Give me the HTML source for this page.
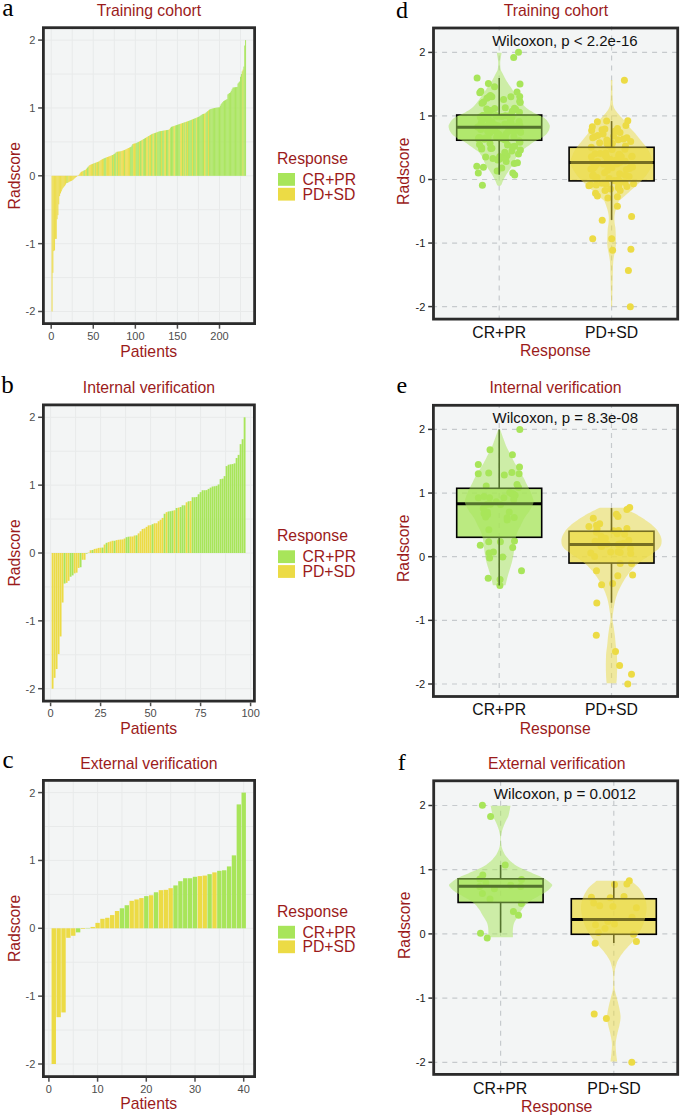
<!DOCTYPE html>
<html><head><meta charset="utf-8"><title>Radscore figure</title>
<style>html,body{margin:0;padding:0;background:#fff;width:685px;height:1118px;overflow:hidden}svg{display:block}</style>
</head><body>
<svg width="685" height="1118" viewBox="0 0 685 1118">
<rect width="685" height="1118" fill="#FFFFFF"/>
<rect x="44.8" y="29.1" width="208.39999999999998" height="293.09999999999997" fill="#F3F5F5"/>
<line x1="44.8" x2="253.2" y1="311.50" y2="311.50" stroke="#E8EAEA" stroke-width="1"/>
<line x1="44.8" x2="253.2" y1="277.57" y2="277.57" stroke="#E8EAEA" stroke-width="1"/>
<line x1="44.8" x2="253.2" y1="243.65" y2="243.65" stroke="#E8EAEA" stroke-width="1"/>
<line x1="44.8" x2="253.2" y1="209.73" y2="209.73" stroke="#E8EAEA" stroke-width="1"/>
<line x1="44.8" x2="253.2" y1="175.80" y2="175.80" stroke="#E8EAEA" stroke-width="1"/>
<line x1="44.8" x2="253.2" y1="141.88" y2="141.88" stroke="#E8EAEA" stroke-width="1"/>
<line x1="44.8" x2="253.2" y1="107.95" y2="107.95" stroke="#E8EAEA" stroke-width="1"/>
<line x1="44.8" x2="253.2" y1="74.03" y2="74.03" stroke="#E8EAEA" stroke-width="1"/>
<line x1="44.8" x2="253.2" y1="40.10" y2="40.10" stroke="#E8EAEA" stroke-width="1"/>
<line x1="51.20" x2="51.20" y1="29.1" y2="322.2" stroke="#E8EAEA" stroke-width="1"/>
<line x1="72.24" x2="72.24" y1="29.1" y2="322.2" stroke="#E8EAEA" stroke-width="1"/>
<line x1="93.28" x2="93.28" y1="29.1" y2="322.2" stroke="#E8EAEA" stroke-width="1"/>
<line x1="114.31" x2="114.31" y1="29.1" y2="322.2" stroke="#E8EAEA" stroke-width="1"/>
<line x1="135.35" x2="135.35" y1="29.1" y2="322.2" stroke="#E8EAEA" stroke-width="1"/>
<line x1="156.39" x2="156.39" y1="29.1" y2="322.2" stroke="#E8EAEA" stroke-width="1"/>
<line x1="177.43" x2="177.43" y1="29.1" y2="322.2" stroke="#E8EAEA" stroke-width="1"/>
<line x1="198.46" x2="198.46" y1="29.1" y2="322.2" stroke="#E8EAEA" stroke-width="1"/>
<line x1="219.50" x2="219.50" y1="29.1" y2="322.2" stroke="#E8EAEA" stroke-width="1"/>
<line x1="240.54" x2="240.54" y1="29.1" y2="322.2" stroke="#E8EAEA" stroke-width="1"/>
<rect x="51.570" y="175.800" width="0.942" height="135.700" fill="#ECDB45"/>
<rect x="52.412" y="175.800" width="0.942" height="97.026" fill="#ECDB45"/>
<rect x="53.253" y="175.800" width="0.942" height="75.314" fill="#ECDB45"/>
<rect x="54.095" y="175.800" width="0.942" height="74.635" fill="#ECDB45"/>
<rect x="54.936" y="175.800" width="0.942" height="63.101" fill="#ECDB45"/>
<rect x="55.778" y="175.800" width="0.942" height="63.101" fill="#ECDB45"/>
<rect x="56.619" y="175.800" width="0.942" height="43.424" fill="#ECDB45"/>
<rect x="57.461" y="175.800" width="0.942" height="39.353" fill="#ECDB45"/>
<rect x="58.302" y="175.800" width="0.942" height="28.497" fill="#ECDB45"/>
<rect x="59.144" y="175.800" width="0.942" height="20.355" fill="#ECDB45"/>
<rect x="59.985" y="175.800" width="0.942" height="17.641" fill="#ECDB45"/>
<rect x="60.827" y="175.800" width="0.942" height="15.606" fill="#ECDB45"/>
<rect x="61.668" y="175.800" width="0.942" height="13.570" fill="#ECDB45"/>
<rect x="62.510" y="175.800" width="0.942" height="12.213" fill="#ECDB45"/>
<rect x="63.351" y="175.800" width="0.942" height="11.195" fill="#ECDB45"/>
<rect x="64.193" y="175.800" width="0.942" height="10.178" fill="#ECDB45"/>
<rect x="65.034" y="175.800" width="0.942" height="8.821" fill="#ECDB45"/>
<rect x="65.876" y="175.800" width="0.942" height="7.464" fill="#ECDB45"/>
<rect x="66.717" y="175.800" width="0.942" height="7.124" fill="#A8E55A"/>
<rect x="67.559" y="175.800" width="0.942" height="6.785" fill="#ECDB45"/>
<rect x="68.400" y="175.800" width="0.942" height="6.276" fill="#ECDB45"/>
<rect x="69.242" y="175.800" width="0.942" height="5.767" fill="#ECDB45"/>
<rect x="70.083" y="175.800" width="0.942" height="5.428" fill="#ECDB45"/>
<rect x="70.925" y="175.800" width="0.942" height="5.089" fill="#ECDB45"/>
<rect x="71.766" y="175.800" width="0.942" height="4.580" fill="#ECDB45"/>
<rect x="72.608" y="175.800" width="0.942" height="4.071" fill="#ECDB45"/>
<rect x="73.449" y="175.800" width="0.942" height="3.223" fill="#ECDB45"/>
<rect x="74.291" y="175.800" width="0.942" height="2.375" fill="#ECDB45"/>
<rect x="75.132" y="175.800" width="0.942" height="1.696" fill="#ECDB45"/>
<rect x="75.974" y="175.800" width="0.942" height="1.018" fill="#ECDB45"/>
<rect x="76.815" y="175.800" width="0.942" height="0.339" fill="#ECDB45"/>
<rect x="77.657" y="175.461" width="0.942" height="0.339" fill="#ECDB45"/>
<rect x="78.498" y="174.850" width="0.942" height="0.950" fill="#ECDB45"/>
<rect x="79.340" y="173.663" width="0.942" height="2.137" fill="#ECDB45"/>
<rect x="80.181" y="172.475" width="0.942" height="3.325" fill="#ECDB45"/>
<rect x="81.023" y="171.753" width="0.942" height="4.047" fill="#ECDB45"/>
<rect x="81.864" y="171.341" width="0.942" height="4.459" fill="#ECDB45"/>
<rect x="82.706" y="170.929" width="0.942" height="4.871" fill="#ECDB45"/>
<rect x="83.547" y="170.517" width="0.942" height="5.283" fill="#A8E55A"/>
<rect x="84.389" y="170.105" width="0.942" height="5.695" fill="#A8E55A"/>
<rect x="85.230" y="169.694" width="0.942" height="6.107" fill="#ECDB45"/>
<rect x="86.072" y="168.688" width="0.942" height="7.112" fill="#ECDB45"/>
<rect x="86.913" y="167.683" width="0.942" height="8.117" fill="#A8E55A"/>
<rect x="87.755" y="166.708" width="0.942" height="9.092" fill="#A8E55A"/>
<rect x="88.596" y="165.803" width="0.942" height="9.997" fill="#ECDB45"/>
<rect x="89.438" y="165.010" width="0.942" height="10.790" fill="#ECDB45"/>
<rect x="90.279" y="164.664" width="0.942" height="11.136" fill="#ECDB45"/>
<rect x="91.121" y="164.318" width="0.942" height="11.482" fill="#ECDB45"/>
<rect x="91.962" y="163.972" width="0.942" height="11.828" fill="#ECDB45"/>
<rect x="92.804" y="163.626" width="0.942" height="12.174" fill="#A8E55A"/>
<rect x="93.645" y="163.291" width="0.942" height="12.509" fill="#ECDB45"/>
<rect x="94.487" y="162.983" width="0.942" height="12.817" fill="#ECDB45"/>
<rect x="95.328" y="162.674" width="0.942" height="13.126" fill="#A8E55A"/>
<rect x="96.170" y="162.366" width="0.942" height="13.434" fill="#ECDB45"/>
<rect x="97.011" y="162.057" width="0.942" height="13.743" fill="#ECDB45"/>
<rect x="97.853" y="161.749" width="0.942" height="14.051" fill="#A8E55A"/>
<rect x="98.694" y="161.248" width="0.942" height="14.552" fill="#ECDB45"/>
<rect x="99.536" y="160.699" width="0.942" height="15.101" fill="#ECDB45"/>
<rect x="100.377" y="160.149" width="0.942" height="15.651" fill="#ECDB45"/>
<rect x="101.219" y="159.600" width="0.942" height="16.200" fill="#ECDB45"/>
<rect x="102.060" y="159.133" width="0.942" height="16.667" fill="#ECDB45"/>
<rect x="102.902" y="158.721" width="0.942" height="17.079" fill="#ECDB45"/>
<rect x="103.743" y="158.309" width="0.942" height="17.491" fill="#A8E55A"/>
<rect x="104.585" y="157.970" width="0.942" height="17.830" fill="#A8E55A"/>
<rect x="105.426" y="157.650" width="0.942" height="18.150" fill="#A8E55A"/>
<rect x="106.268" y="157.329" width="0.942" height="18.471" fill="#ECDB45"/>
<rect x="107.109" y="157.008" width="0.942" height="18.792" fill="#ECDB45"/>
<rect x="107.951" y="156.687" width="0.942" height="19.113" fill="#ECDB45"/>
<rect x="108.792" y="156.363" width="0.942" height="19.437" fill="#ECDB45"/>
<rect x="109.634" y="156.032" width="0.942" height="19.768" fill="#ECDB45"/>
<rect x="110.475" y="155.702" width="0.942" height="20.098" fill="#ECDB45"/>
<rect x="111.317" y="155.371" width="0.942" height="20.429" fill="#ECDB45"/>
<rect x="112.158" y="155.003" width="0.942" height="20.797" fill="#A8E55A"/>
<rect x="113.000" y="154.488" width="0.942" height="21.312" fill="#ECDB45"/>
<rect x="113.841" y="153.973" width="0.942" height="21.827" fill="#A8E55A"/>
<rect x="114.683" y="153.348" width="0.942" height="22.452" fill="#A8E55A"/>
<rect x="115.524" y="152.466" width="0.942" height="23.334" fill="#A8E55A"/>
<rect x="116.366" y="151.816" width="0.942" height="23.984" fill="#ECDB45"/>
<rect x="117.207" y="151.705" width="0.942" height="24.095" fill="#A8E55A"/>
<rect x="118.049" y="151.594" width="0.942" height="24.206" fill="#ECDB45"/>
<rect x="118.890" y="151.483" width="0.942" height="24.317" fill="#ECDB45"/>
<rect x="119.732" y="151.373" width="0.942" height="24.427" fill="#A8E55A"/>
<rect x="120.573" y="151.196" width="0.942" height="24.604" fill="#ECDB45"/>
<rect x="121.415" y="150.922" width="0.942" height="24.878" fill="#ECDB45"/>
<rect x="122.256" y="150.647" width="0.942" height="25.153" fill="#ECDB45"/>
<rect x="123.098" y="150.372" width="0.942" height="25.428" fill="#ECDB45"/>
<rect x="123.939" y="150.070" width="0.942" height="25.730" fill="#A8E55A"/>
<rect x="124.781" y="149.656" width="0.942" height="26.144" fill="#ECDB45"/>
<rect x="125.622" y="149.243" width="0.942" height="26.557" fill="#ECDB45"/>
<rect x="126.464" y="148.829" width="0.942" height="26.971" fill="#ECDB45"/>
<rect x="127.305" y="148.414" width="0.942" height="27.386" fill="#ECDB45"/>
<rect x="128.147" y="147.994" width="0.942" height="27.806" fill="#ECDB45"/>
<rect x="128.988" y="147.574" width="0.942" height="28.226" fill="#ECDB45"/>
<rect x="129.830" y="147.154" width="0.942" height="28.646" fill="#A8E55A"/>
<rect x="130.671" y="146.734" width="0.942" height="29.066" fill="#A8E55A"/>
<rect x="131.513" y="145.471" width="0.942" height="30.329" fill="#A8E55A"/>
<rect x="132.354" y="144.114" width="0.942" height="31.686" fill="#A8E55A"/>
<rect x="133.196" y="143.703" width="0.942" height="32.097" fill="#ECDB45"/>
<rect x="134.037" y="143.529" width="0.942" height="32.271" fill="#ECDB45"/>
<rect x="134.879" y="143.354" width="0.942" height="32.446" fill="#ECDB45"/>
<rect x="135.720" y="143.108" width="0.942" height="32.692" fill="#A8E55A"/>
<rect x="136.562" y="142.694" width="0.942" height="33.106" fill="#A8E55A"/>
<rect x="137.403" y="142.280" width="0.942" height="33.520" fill="#A8E55A"/>
<rect x="138.245" y="141.867" width="0.942" height="33.933" fill="#A8E55A"/>
<rect x="139.086" y="141.439" width="0.942" height="34.361" fill="#ECDB45"/>
<rect x="139.928" y="140.954" width="0.942" height="34.846" fill="#A8E55A"/>
<rect x="140.769" y="140.470" width="0.942" height="35.330" fill="#A8E55A"/>
<rect x="141.611" y="139.985" width="0.942" height="35.815" fill="#ECDB45"/>
<rect x="142.452" y="139.500" width="0.942" height="36.300" fill="#ECDB45"/>
<rect x="143.294" y="139.016" width="0.942" height="36.784" fill="#A8E55A"/>
<rect x="144.135" y="138.503" width="0.942" height="37.297" fill="#A8E55A"/>
<rect x="144.977" y="137.972" width="0.942" height="37.828" fill="#A8E55A"/>
<rect x="145.818" y="137.454" width="0.942" height="38.346" fill="#ECDB45"/>
<rect x="146.660" y="136.965" width="0.942" height="38.835" fill="#ECDB45"/>
<rect x="147.501" y="136.475" width="0.942" height="39.325" fill="#ECDB45"/>
<rect x="148.343" y="135.986" width="0.942" height="39.814" fill="#A8E55A"/>
<rect x="149.184" y="135.497" width="0.942" height="40.303" fill="#ECDB45"/>
<rect x="150.026" y="134.944" width="0.942" height="40.856" fill="#ECDB45"/>
<rect x="150.867" y="134.391" width="0.942" height="41.409" fill="#A8E55A"/>
<rect x="151.709" y="133.928" width="0.942" height="41.872" fill="#A8E55A"/>
<rect x="152.550" y="133.674" width="0.942" height="42.126" fill="#ECDB45"/>
<rect x="153.392" y="133.419" width="0.942" height="42.381" fill="#ECDB45"/>
<rect x="154.233" y="133.112" width="0.942" height="42.688" fill="#A8E55A"/>
<rect x="155.075" y="132.799" width="0.942" height="43.001" fill="#A8E55A"/>
<rect x="155.916" y="132.486" width="0.942" height="43.314" fill="#ECDB45"/>
<rect x="156.758" y="132.172" width="0.942" height="43.628" fill="#A8E55A"/>
<rect x="157.599" y="131.859" width="0.942" height="43.941" fill="#A8E55A"/>
<rect x="158.441" y="131.546" width="0.942" height="44.254" fill="#A8E55A"/>
<rect x="159.282" y="131.300" width="0.942" height="44.500" fill="#A8E55A"/>
<rect x="160.124" y="131.155" width="0.942" height="44.645" fill="#A8E55A"/>
<rect x="160.965" y="131.010" width="0.942" height="44.790" fill="#ECDB45"/>
<rect x="161.807" y="130.865" width="0.942" height="44.935" fill="#A8E55A"/>
<rect x="162.648" y="130.720" width="0.942" height="45.080" fill="#A8E55A"/>
<rect x="163.490" y="130.575" width="0.942" height="45.225" fill="#A8E55A"/>
<rect x="164.331" y="130.430" width="0.942" height="45.370" fill="#ECDB45"/>
<rect x="165.173" y="130.285" width="0.942" height="45.515" fill="#ECDB45"/>
<rect x="166.014" y="130.140" width="0.942" height="45.660" fill="#A8E55A"/>
<rect x="166.856" y="129.995" width="0.942" height="45.805" fill="#A8E55A"/>
<rect x="167.697" y="129.850" width="0.942" height="45.950" fill="#A8E55A"/>
<rect x="168.539" y="129.705" width="0.942" height="46.095" fill="#ECDB45"/>
<rect x="169.380" y="128.836" width="0.942" height="46.964" fill="#ECDB45"/>
<rect x="170.222" y="127.656" width="0.942" height="48.144" fill="#A8E55A"/>
<rect x="171.063" y="126.833" width="0.942" height="48.967" fill="#A8E55A"/>
<rect x="171.905" y="126.544" width="0.942" height="49.256" fill="#A8E55A"/>
<rect x="172.746" y="126.255" width="0.942" height="49.545" fill="#A8E55A"/>
<rect x="173.588" y="125.966" width="0.942" height="49.834" fill="#ECDB45"/>
<rect x="174.429" y="125.678" width="0.942" height="50.122" fill="#ECDB45"/>
<rect x="175.271" y="125.389" width="0.942" height="50.411" fill="#A8E55A"/>
<rect x="176.112" y="125.100" width="0.942" height="50.700" fill="#A8E55A"/>
<rect x="176.954" y="124.811" width="0.942" height="50.989" fill="#A8E55A"/>
<rect x="177.795" y="124.523" width="0.942" height="51.277" fill="#A8E55A"/>
<rect x="178.637" y="124.234" width="0.942" height="51.566" fill="#A8E55A"/>
<rect x="179.478" y="123.947" width="0.942" height="51.853" fill="#A8E55A"/>
<rect x="180.320" y="123.659" width="0.942" height="52.141" fill="#ECDB45"/>
<rect x="181.161" y="123.372" width="0.942" height="52.428" fill="#ECDB45"/>
<rect x="182.003" y="123.084" width="0.942" height="52.716" fill="#A8E55A"/>
<rect x="182.844" y="122.797" width="0.942" height="53.004" fill="#ECDB45"/>
<rect x="183.686" y="122.509" width="0.942" height="53.291" fill="#A8E55A"/>
<rect x="184.527" y="122.222" width="0.942" height="53.578" fill="#A8E55A"/>
<rect x="185.369" y="121.934" width="0.942" height="53.866" fill="#ECDB45"/>
<rect x="186.210" y="121.647" width="0.942" height="54.153" fill="#A8E55A"/>
<rect x="187.052" y="121.359" width="0.942" height="54.441" fill="#ECDB45"/>
<rect x="187.893" y="121.072" width="0.942" height="54.728" fill="#A8E55A"/>
<rect x="188.735" y="120.771" width="0.942" height="55.029" fill="#A8E55A"/>
<rect x="189.576" y="120.420" width="0.942" height="55.380" fill="#A8E55A"/>
<rect x="190.418" y="120.069" width="0.942" height="55.731" fill="#A8E55A"/>
<rect x="191.259" y="119.718" width="0.942" height="56.082" fill="#A8E55A"/>
<rect x="192.101" y="119.368" width="0.942" height="56.432" fill="#ECDB45"/>
<rect x="192.942" y="119.017" width="0.942" height="56.783" fill="#A8E55A"/>
<rect x="193.784" y="118.666" width="0.942" height="57.134" fill="#A8E55A"/>
<rect x="194.625" y="118.315" width="0.942" height="57.485" fill="#A8E55A"/>
<rect x="195.467" y="117.964" width="0.942" height="57.836" fill="#A8E55A"/>
<rect x="196.308" y="117.613" width="0.942" height="58.187" fill="#ECDB45"/>
<rect x="197.150" y="117.262" width="0.942" height="58.538" fill="#A8E55A"/>
<rect x="197.991" y="116.911" width="0.942" height="58.889" fill="#A8E55A"/>
<rect x="198.833" y="116.431" width="0.942" height="59.369" fill="#A8E55A"/>
<rect x="199.674" y="115.866" width="0.942" height="59.934" fill="#A8E55A"/>
<rect x="200.516" y="115.300" width="0.942" height="60.500" fill="#A8E55A"/>
<rect x="201.357" y="114.735" width="0.942" height="61.065" fill="#A8E55A"/>
<rect x="202.199" y="114.170" width="0.942" height="61.630" fill="#A8E55A"/>
<rect x="203.040" y="113.889" width="0.942" height="61.911" fill="#A8E55A"/>
<rect x="203.882" y="113.681" width="0.942" height="62.119" fill="#ECDB45"/>
<rect x="204.723" y="113.366" width="0.942" height="62.434" fill="#ECDB45"/>
<rect x="205.565" y="112.628" width="0.942" height="63.172" fill="#A8E55A"/>
<rect x="206.406" y="111.890" width="0.942" height="63.910" fill="#A8E55A"/>
<rect x="207.248" y="111.152" width="0.942" height="64.648" fill="#A8E55A"/>
<rect x="208.089" y="110.414" width="0.942" height="65.386" fill="#ECDB45"/>
<rect x="208.931" y="109.676" width="0.942" height="66.124" fill="#A8E55A"/>
<rect x="209.772" y="109.190" width="0.942" height="66.610" fill="#A8E55A"/>
<rect x="210.614" y="108.956" width="0.942" height="66.844" fill="#A8E55A"/>
<rect x="211.455" y="108.722" width="0.942" height="67.078" fill="#A8E55A"/>
<rect x="212.297" y="108.488" width="0.942" height="67.312" fill="#A8E55A"/>
<rect x="213.138" y="108.254" width="0.942" height="67.546" fill="#A8E55A"/>
<rect x="213.980" y="108.020" width="0.942" height="67.780" fill="#A8E55A"/>
<rect x="214.821" y="107.867" width="0.942" height="67.933" fill="#A8E55A"/>
<rect x="215.663" y="107.748" width="0.942" height="68.052" fill="#A8E55A"/>
<rect x="216.504" y="107.629" width="0.942" height="68.171" fill="#A8E55A"/>
<rect x="217.346" y="107.510" width="0.942" height="68.290" fill="#A8E55A"/>
<rect x="218.187" y="107.391" width="0.942" height="68.409" fill="#A8E55A"/>
<rect x="219.029" y="107.272" width="0.942" height="68.528" fill="#A8E55A"/>
<rect x="219.870" y="105.665" width="0.942" height="70.135" fill="#A8E55A"/>
<rect x="220.712" y="104.113" width="0.942" height="71.687" fill="#A8E55A"/>
<rect x="221.553" y="103.060" width="0.942" height="72.740" fill="#A8E55A"/>
<rect x="222.395" y="102.007" width="0.942" height="73.793" fill="#A8E55A"/>
<rect x="223.236" y="101.068" width="0.942" height="74.732" fill="#A8E55A"/>
<rect x="224.078" y="100.583" width="0.942" height="75.217" fill="#A8E55A"/>
<rect x="224.919" y="100.099" width="0.942" height="75.701" fill="#A8E55A"/>
<rect x="225.761" y="99.614" width="0.942" height="76.186" fill="#A8E55A"/>
<rect x="226.602" y="99.130" width="0.942" height="76.670" fill="#A8E55A"/>
<rect x="227.444" y="94.380" width="0.942" height="81.420" fill="#A8E55A"/>
<rect x="228.285" y="93.702" width="0.942" height="82.098" fill="#A8E55A"/>
<rect x="229.127" y="93.023" width="0.942" height="82.777" fill="#A8E55A"/>
<rect x="229.968" y="92.345" width="0.942" height="83.455" fill="#A8E55A"/>
<rect x="230.810" y="90.761" width="0.942" height="85.039" fill="#A8E55A"/>
<rect x="231.651" y="89.178" width="0.942" height="86.622" fill="#A8E55A"/>
<rect x="232.493" y="87.595" width="0.942" height="88.205" fill="#A8E55A"/>
<rect x="233.334" y="87.459" width="0.942" height="88.341" fill="#A8E55A"/>
<rect x="234.176" y="87.324" width="0.942" height="88.476" fill="#A8E55A"/>
<rect x="235.017" y="87.188" width="0.942" height="88.612" fill="#A8E55A"/>
<rect x="235.859" y="87.052" width="0.942" height="88.748" fill="#A8E55A"/>
<rect x="236.700" y="86.917" width="0.942" height="88.883" fill="#A8E55A"/>
<rect x="237.542" y="83.524" width="0.942" height="92.276" fill="#A8E55A"/>
<rect x="238.383" y="82.506" width="0.942" height="93.294" fill="#A8E55A"/>
<rect x="239.225" y="81.489" width="0.942" height="94.311" fill="#A8E55A"/>
<rect x="240.066" y="76.739" width="0.942" height="99.061" fill="#A8E55A"/>
<rect x="240.908" y="74.025" width="0.942" height="101.775" fill="#A8E55A"/>
<rect x="241.749" y="71.311" width="0.942" height="104.489" fill="#A8E55A"/>
<rect x="242.591" y="69.615" width="0.942" height="106.185" fill="#ECDB45"/>
<rect x="243.432" y="66.562" width="0.942" height="109.239" fill="#A8E55A"/>
<rect x="244.274" y="45.528" width="0.942" height="130.272" fill="#A8E55A"/>
<rect x="245.115" y="40.100" width="0.942" height="135.700" fill="#A8E55A"/>
<rect x="43.4" y="27.7" width="211.2" height="295.9" fill="none" stroke="#2B2B2B" stroke-width="2.8"/>
<line x1="38.1" x2="42" y1="40.10" y2="40.10" stroke="#4D4D4D" stroke-width="1.5"/>
<text x="35.40" y="44.00" font-family="Liberation Sans" font-size="11" fill="#4D4D4D" text-anchor="end" >2</text>
<line x1="38.1" x2="42" y1="107.95" y2="107.95" stroke="#4D4D4D" stroke-width="1.5"/>
<text x="35.40" y="111.85" font-family="Liberation Sans" font-size="11" fill="#4D4D4D" text-anchor="end" >1</text>
<line x1="38.1" x2="42" y1="175.80" y2="175.80" stroke="#4D4D4D" stroke-width="1.5"/>
<text x="35.40" y="179.70" font-family="Liberation Sans" font-size="11" fill="#4D4D4D" text-anchor="end" >0</text>
<line x1="38.1" x2="42" y1="243.65" y2="243.65" stroke="#4D4D4D" stroke-width="1.5"/>
<text x="35.40" y="247.55" font-family="Liberation Sans" font-size="11" fill="#4D4D4D" text-anchor="end" >-1</text>
<line x1="38.1" x2="42" y1="311.50" y2="311.50" stroke="#4D4D4D" stroke-width="1.5"/>
<text x="35.40" y="315.40" font-family="Liberation Sans" font-size="11" fill="#4D4D4D" text-anchor="end" >-2</text>
<line x1="51.20" x2="51.20" y1="325" y2="328.7" stroke="#4D4D4D" stroke-width="1.5"/>
<text x="51.20" y="339.60" font-family="Liberation Sans" font-size="11" fill="#4D4D4D" text-anchor="middle" >0</text>
<line x1="93.28" x2="93.28" y1="325" y2="328.7" stroke="#4D4D4D" stroke-width="1.5"/>
<text x="93.28" y="339.60" font-family="Liberation Sans" font-size="11" fill="#4D4D4D" text-anchor="middle" >50</text>
<line x1="135.35" x2="135.35" y1="325" y2="328.7" stroke="#4D4D4D" stroke-width="1.5"/>
<text x="135.35" y="339.60" font-family="Liberation Sans" font-size="11" fill="#4D4D4D" text-anchor="middle" >100</text>
<line x1="177.43" x2="177.43" y1="325" y2="328.7" stroke="#4D4D4D" stroke-width="1.5"/>
<text x="177.43" y="339.60" font-family="Liberation Sans" font-size="11" fill="#4D4D4D" text-anchor="middle" >150</text>
<line x1="219.50" x2="219.50" y1="325" y2="328.7" stroke="#4D4D4D" stroke-width="1.5"/>
<text x="219.50" y="339.60" font-family="Liberation Sans" font-size="11" fill="#4D4D4D" text-anchor="middle" >200</text>
<rect x="44.8" y="406.3" width="208.2" height="293.40000000000003" fill="#F3F5F5"/>
<line x1="44.8" x2="253.0" y1="688.70" y2="688.70" stroke="#E8EAEA" stroke-width="1"/>
<line x1="44.8" x2="253.0" y1="654.77" y2="654.77" stroke="#E8EAEA" stroke-width="1"/>
<line x1="44.8" x2="253.0" y1="620.85" y2="620.85" stroke="#E8EAEA" stroke-width="1"/>
<line x1="44.8" x2="253.0" y1="586.92" y2="586.92" stroke="#E8EAEA" stroke-width="1"/>
<line x1="44.8" x2="253.0" y1="553.00" y2="553.00" stroke="#E8EAEA" stroke-width="1"/>
<line x1="44.8" x2="253.0" y1="519.08" y2="519.08" stroke="#E8EAEA" stroke-width="1"/>
<line x1="44.8" x2="253.0" y1="485.15" y2="485.15" stroke="#E8EAEA" stroke-width="1"/>
<line x1="44.8" x2="253.0" y1="451.23" y2="451.23" stroke="#E8EAEA" stroke-width="1"/>
<line x1="44.8" x2="253.0" y1="417.30" y2="417.30" stroke="#E8EAEA" stroke-width="1"/>
<line x1="50.60" x2="50.60" y1="406.3" y2="699.7" stroke="#E8EAEA" stroke-width="1"/>
<line x1="75.60" x2="75.60" y1="406.3" y2="699.7" stroke="#E8EAEA" stroke-width="1"/>
<line x1="100.60" x2="100.60" y1="406.3" y2="699.7" stroke="#E8EAEA" stroke-width="1"/>
<line x1="125.60" x2="125.60" y1="406.3" y2="699.7" stroke="#E8EAEA" stroke-width="1"/>
<line x1="150.60" x2="150.60" y1="406.3" y2="699.7" stroke="#E8EAEA" stroke-width="1"/>
<line x1="175.60" x2="175.60" y1="406.3" y2="699.7" stroke="#E8EAEA" stroke-width="1"/>
<line x1="200.60" x2="200.60" y1="406.3" y2="699.7" stroke="#E8EAEA" stroke-width="1"/>
<line x1="225.60" x2="225.60" y1="406.3" y2="699.7" stroke="#E8EAEA" stroke-width="1"/>
<line x1="250.60" x2="250.60" y1="406.3" y2="699.7" stroke="#E8EAEA" stroke-width="1"/>
<rect x="51.675" y="553.000" width="1.850" height="135.700" fill="#ECDB45"/>
<rect x="53.675" y="553.000" width="1.850" height="124.844" fill="#ECDB45"/>
<rect x="55.675" y="553.000" width="1.850" height="116.024" fill="#ECDB45"/>
<rect x="57.675" y="553.000" width="1.850" height="101.096" fill="#ECDB45"/>
<rect x="59.675" y="553.000" width="1.850" height="83.456" fill="#ECDB45"/>
<rect x="61.675" y="553.000" width="1.850" height="49.530" fill="#ECDB45"/>
<rect x="63.675" y="553.000" width="1.850" height="30.533" fill="#A8E55A"/>
<rect x="65.675" y="553.000" width="1.850" height="29.854" fill="#ECDB45"/>
<rect x="67.675" y="553.000" width="1.850" height="27.818" fill="#ECDB45"/>
<rect x="69.675" y="553.000" width="1.850" height="23.747" fill="#A8E55A"/>
<rect x="71.675" y="553.000" width="1.850" height="22.390" fill="#A8E55A"/>
<rect x="73.675" y="553.000" width="1.850" height="20.355" fill="#ECDB45"/>
<rect x="75.675" y="553.000" width="1.850" height="19.677" fill="#ECDB45"/>
<rect x="77.675" y="553.000" width="1.850" height="14.927" fill="#ECDB45"/>
<rect x="79.675" y="553.000" width="1.850" height="14.249" fill="#A8E55A"/>
<rect x="81.675" y="553.000" width="1.850" height="6.785" fill="#ECDB45"/>
<rect x="83.675" y="553.000" width="1.850" height="6.785" fill="#ECDB45"/>
<rect x="85.675" y="553.000" width="1.850" height="0.678" fill="#A8E55A"/>
<rect x="87.675" y="552.661" width="1.850" height="0.339" fill="#ECDB45"/>
<rect x="89.675" y="550.286" width="1.850" height="2.714" fill="#ECDB45"/>
<rect x="91.675" y="549.947" width="1.850" height="3.053" fill="#A8E55A"/>
<rect x="93.675" y="548.929" width="1.850" height="4.071" fill="#ECDB45"/>
<rect x="95.675" y="548.590" width="1.850" height="4.410" fill="#ECDB45"/>
<rect x="97.675" y="547.911" width="1.850" height="5.089" fill="#ECDB45"/>
<rect x="99.675" y="547.708" width="1.850" height="5.292" fill="#ECDB45"/>
<rect x="101.675" y="547.572" width="1.850" height="5.428" fill="#A8E55A"/>
<rect x="103.675" y="544.519" width="1.850" height="8.481" fill="#ECDB45"/>
<rect x="105.675" y="542.822" width="1.850" height="10.178" fill="#A8E55A"/>
<rect x="107.675" y="542.144" width="1.850" height="10.856" fill="#ECDB45"/>
<rect x="109.675" y="541.466" width="1.850" height="11.534" fill="#ECDB45"/>
<rect x="111.675" y="540.787" width="1.850" height="12.213" fill="#ECDB45"/>
<rect x="113.675" y="540.787" width="1.850" height="12.213" fill="#A8E55A"/>
<rect x="115.675" y="540.109" width="1.850" height="12.891" fill="#ECDB45"/>
<rect x="117.675" y="539.769" width="1.850" height="13.231" fill="#ECDB45"/>
<rect x="119.675" y="539.566" width="1.850" height="13.434" fill="#ECDB45"/>
<rect x="121.675" y="539.430" width="1.850" height="13.570" fill="#ECDB45"/>
<rect x="123.675" y="538.548" width="1.850" height="14.452" fill="#ECDB45"/>
<rect x="125.675" y="537.191" width="1.850" height="15.809" fill="#A8E55A"/>
<rect x="127.675" y="536.716" width="1.850" height="16.284" fill="#A8E55A"/>
<rect x="129.675" y="536.512" width="1.850" height="16.488" fill="#ECDB45"/>
<rect x="131.675" y="536.512" width="1.850" height="16.488" fill="#ECDB45"/>
<rect x="133.675" y="535.495" width="1.850" height="17.505" fill="#ECDB45"/>
<rect x="135.675" y="535.291" width="1.850" height="17.709" fill="#A8E55A"/>
<rect x="137.675" y="533.391" width="1.850" height="19.609" fill="#ECDB45"/>
<rect x="139.675" y="531.288" width="1.850" height="21.712" fill="#ECDB45"/>
<rect x="141.675" y="528.981" width="1.850" height="24.019" fill="#ECDB45"/>
<rect x="143.675" y="528.438" width="1.850" height="24.562" fill="#ECDB45"/>
<rect x="145.675" y="526.878" width="1.850" height="26.122" fill="#ECDB45"/>
<rect x="147.675" y="525.385" width="1.850" height="27.615" fill="#ECDB45"/>
<rect x="149.675" y="525.182" width="1.850" height="27.818" fill="#ECDB45"/>
<rect x="151.675" y="524.164" width="1.850" height="28.836" fill="#A8E55A"/>
<rect x="153.675" y="523.282" width="1.850" height="29.718" fill="#ECDB45"/>
<rect x="155.675" y="523.282" width="1.850" height="29.718" fill="#ECDB45"/>
<rect x="157.675" y="521.246" width="1.850" height="31.754" fill="#ECDB45"/>
<rect x="159.675" y="519.754" width="1.850" height="33.246" fill="#ECDB45"/>
<rect x="161.675" y="517.922" width="1.850" height="35.078" fill="#ECDB45"/>
<rect x="163.675" y="513.783" width="1.850" height="39.217" fill="#A8E55A"/>
<rect x="165.675" y="512.154" width="1.850" height="40.846" fill="#ECDB45"/>
<rect x="167.675" y="511.476" width="1.850" height="41.524" fill="#A8E55A"/>
<rect x="169.675" y="511.204" width="1.850" height="41.796" fill="#A8E55A"/>
<rect x="171.675" y="510.729" width="1.850" height="42.271" fill="#A8E55A"/>
<rect x="173.675" y="510.255" width="1.850" height="42.745" fill="#ECDB45"/>
<rect x="175.675" y="508.015" width="1.850" height="44.985" fill="#A8E55A"/>
<rect x="177.675" y="507.608" width="1.850" height="45.392" fill="#ECDB45"/>
<rect x="179.675" y="506.998" width="1.850" height="46.002" fill="#A8E55A"/>
<rect x="181.675" y="505.301" width="1.850" height="47.699" fill="#A8E55A"/>
<rect x="183.675" y="505.301" width="1.850" height="47.699" fill="#A8E55A"/>
<rect x="185.675" y="502.316" width="1.850" height="50.684" fill="#ECDB45"/>
<rect x="187.675" y="501.298" width="1.850" height="51.702" fill="#A8E55A"/>
<rect x="189.675" y="501.027" width="1.850" height="51.973" fill="#ECDB45"/>
<rect x="191.675" y="497.227" width="1.850" height="55.773" fill="#A8E55A"/>
<rect x="193.675" y="497.227" width="1.850" height="55.773" fill="#A8E55A"/>
<rect x="195.675" y="496.956" width="1.850" height="56.044" fill="#A8E55A"/>
<rect x="197.675" y="494.310" width="1.850" height="58.690" fill="#A8E55A"/>
<rect x="199.675" y="492.139" width="1.850" height="60.861" fill="#A8E55A"/>
<rect x="201.675" y="490.239" width="1.850" height="62.761" fill="#A8E55A"/>
<rect x="203.675" y="490.239" width="1.850" height="62.761" fill="#A8E55A"/>
<rect x="205.675" y="490.103" width="1.850" height="62.897" fill="#A8E55A"/>
<rect x="207.675" y="488.882" width="1.850" height="64.118" fill="#A8E55A"/>
<rect x="209.675" y="487.593" width="1.850" height="65.407" fill="#A8E55A"/>
<rect x="211.675" y="486.507" width="1.850" height="66.493" fill="#A8E55A"/>
<rect x="213.675" y="486.236" width="1.850" height="66.764" fill="#A8E55A"/>
<rect x="215.675" y="485.829" width="1.850" height="67.171" fill="#A8E55A"/>
<rect x="217.675" y="484.471" width="1.850" height="68.529" fill="#A8E55A"/>
<rect x="219.675" y="479.111" width="1.850" height="73.889" fill="#A8E55A"/>
<rect x="221.675" y="478.704" width="1.850" height="74.296" fill="#A8E55A"/>
<rect x="223.675" y="476.126" width="1.850" height="76.874" fill="#A8E55A"/>
<rect x="225.675" y="466.084" width="1.850" height="86.916" fill="#A8E55A"/>
<rect x="227.675" y="464.727" width="1.850" height="88.273" fill="#A8E55A"/>
<rect x="229.675" y="464.320" width="1.850" height="88.680" fill="#A8E55A"/>
<rect x="231.675" y="464.049" width="1.850" height="88.951" fill="#A8E55A"/>
<rect x="233.675" y="463.370" width="1.850" height="89.630" fill="#A8E55A"/>
<rect x="235.675" y="458.010" width="1.850" height="94.990" fill="#A8E55A"/>
<rect x="237.675" y="454.889" width="1.850" height="98.111" fill="#A8E55A"/>
<rect x="239.675" y="444.169" width="1.850" height="108.831" fill="#A8E55A"/>
<rect x="241.675" y="439.216" width="1.850" height="113.784" fill="#A8E55A"/>
<rect x="243.675" y="417.300" width="1.850" height="135.700" fill="#A8E55A"/>
<rect x="43.4" y="404.9" width="211.0" height="296.2" fill="none" stroke="#2B2B2B" stroke-width="2.8"/>
<line x1="38.1" x2="42" y1="417.30" y2="417.30" stroke="#4D4D4D" stroke-width="1.5"/>
<text x="35.40" y="421.20" font-family="Liberation Sans" font-size="11" fill="#4D4D4D" text-anchor="end" >2</text>
<line x1="38.1" x2="42" y1="485.15" y2="485.15" stroke="#4D4D4D" stroke-width="1.5"/>
<text x="35.40" y="489.05" font-family="Liberation Sans" font-size="11" fill="#4D4D4D" text-anchor="end" >1</text>
<line x1="38.1" x2="42" y1="553.00" y2="553.00" stroke="#4D4D4D" stroke-width="1.5"/>
<text x="35.40" y="556.90" font-family="Liberation Sans" font-size="11" fill="#4D4D4D" text-anchor="end" >0</text>
<line x1="38.1" x2="42" y1="620.85" y2="620.85" stroke="#4D4D4D" stroke-width="1.5"/>
<text x="35.40" y="624.75" font-family="Liberation Sans" font-size="11" fill="#4D4D4D" text-anchor="end" >-1</text>
<line x1="38.1" x2="42" y1="688.70" y2="688.70" stroke="#4D4D4D" stroke-width="1.5"/>
<text x="35.40" y="692.60" font-family="Liberation Sans" font-size="11" fill="#4D4D4D" text-anchor="end" >-2</text>
<line x1="50.60" x2="50.60" y1="702.5" y2="706.2" stroke="#4D4D4D" stroke-width="1.5"/>
<text x="50.60" y="717.10" font-family="Liberation Sans" font-size="11" fill="#4D4D4D" text-anchor="middle" >0</text>
<line x1="100.60" x2="100.60" y1="702.5" y2="706.2" stroke="#4D4D4D" stroke-width="1.5"/>
<text x="100.60" y="717.10" font-family="Liberation Sans" font-size="11" fill="#4D4D4D" text-anchor="middle" >25</text>
<line x1="150.60" x2="150.60" y1="702.5" y2="706.2" stroke="#4D4D4D" stroke-width="1.5"/>
<text x="150.60" y="717.10" font-family="Liberation Sans" font-size="11" fill="#4D4D4D" text-anchor="middle" >50</text>
<line x1="200.60" x2="200.60" y1="702.5" y2="706.2" stroke="#4D4D4D" stroke-width="1.5"/>
<text x="200.60" y="717.10" font-family="Liberation Sans" font-size="11" fill="#4D4D4D" text-anchor="middle" >75</text>
<line x1="250.60" x2="250.60" y1="702.5" y2="706.2" stroke="#4D4D4D" stroke-width="1.5"/>
<text x="250.60" y="717.10" font-family="Liberation Sans" font-size="11" fill="#4D4D4D" text-anchor="middle" >100</text>
<rect x="44.8" y="781.8" width="208.39999999999998" height="293.4000000000001" fill="#F3F5F5"/>
<line x1="44.8" x2="253.2" y1="1064.00" y2="1064.00" stroke="#E8EAEA" stroke-width="1"/>
<line x1="44.8" x2="253.2" y1="1030.08" y2="1030.08" stroke="#E8EAEA" stroke-width="1"/>
<line x1="44.8" x2="253.2" y1="996.15" y2="996.15" stroke="#E8EAEA" stroke-width="1"/>
<line x1="44.8" x2="253.2" y1="962.22" y2="962.22" stroke="#E8EAEA" stroke-width="1"/>
<line x1="44.8" x2="253.2" y1="928.30" y2="928.30" stroke="#E8EAEA" stroke-width="1"/>
<line x1="44.8" x2="253.2" y1="894.38" y2="894.38" stroke="#E8EAEA" stroke-width="1"/>
<line x1="44.8" x2="253.2" y1="860.45" y2="860.45" stroke="#E8EAEA" stroke-width="1"/>
<line x1="44.8" x2="253.2" y1="826.52" y2="826.52" stroke="#E8EAEA" stroke-width="1"/>
<line x1="44.8" x2="253.2" y1="792.60" y2="792.60" stroke="#E8EAEA" stroke-width="1"/>
<line x1="48.90" x2="48.90" y1="781.8" y2="1075.2" stroke="#E8EAEA" stroke-width="1"/>
<line x1="73.25" x2="73.25" y1="781.8" y2="1075.2" stroke="#E8EAEA" stroke-width="1"/>
<line x1="97.60" x2="97.60" y1="781.8" y2="1075.2" stroke="#E8EAEA" stroke-width="1"/>
<line x1="121.95" x2="121.95" y1="781.8" y2="1075.2" stroke="#E8EAEA" stroke-width="1"/>
<line x1="146.30" x2="146.30" y1="781.8" y2="1075.2" stroke="#E8EAEA" stroke-width="1"/>
<line x1="170.65" x2="170.65" y1="781.8" y2="1075.2" stroke="#E8EAEA" stroke-width="1"/>
<line x1="195.00" x2="195.00" y1="781.8" y2="1075.2" stroke="#E8EAEA" stroke-width="1"/>
<line x1="219.35" x2="219.35" y1="781.8" y2="1075.2" stroke="#E8EAEA" stroke-width="1"/>
<line x1="243.70" x2="243.70" y1="781.8" y2="1075.2" stroke="#E8EAEA" stroke-width="1"/>
<rect x="51.578" y="928.300" width="4.383" height="135.700" fill="#ECDB45"/>
<rect x="56.449" y="928.300" width="4.383" height="88.884" fill="#ECDB45"/>
<rect x="61.319" y="928.300" width="4.383" height="84.134" fill="#ECDB45"/>
<rect x="66.188" y="928.300" width="4.383" height="9.499" fill="#ECDB45"/>
<rect x="71.058" y="928.300" width="4.383" height="7.463" fill="#ECDB45"/>
<rect x="75.928" y="928.300" width="4.383" height="4.071" fill="#A8E55A"/>
<rect x="80.799" y="928.300" width="4.383" height="0.678" fill="#ECDB45"/>
<rect x="85.668" y="927.961" width="4.383" height="0.339" fill="#A8E55A"/>
<rect x="90.538" y="926.943" width="4.383" height="1.357" fill="#ECDB45"/>
<rect x="95.408" y="922.872" width="4.383" height="5.428" fill="#ECDB45"/>
<rect x="100.278" y="918.801" width="4.383" height="9.499" fill="#ECDB45"/>
<rect x="105.148" y="917.783" width="4.383" height="10.517" fill="#ECDB45"/>
<rect x="110.019" y="915.069" width="4.383" height="13.231" fill="#ECDB45"/>
<rect x="114.889" y="910.998" width="4.383" height="17.302" fill="#ECDB45"/>
<rect x="119.758" y="908.284" width="4.383" height="20.016" fill="#A8E55A"/>
<rect x="124.628" y="905.231" width="4.383" height="23.069" fill="#A8E55A"/>
<rect x="129.499" y="900.821" width="4.383" height="27.479" fill="#ECDB45"/>
<rect x="134.369" y="899.464" width="4.383" height="28.836" fill="#ECDB45"/>
<rect x="139.239" y="898.107" width="4.383" height="30.193" fill="#ECDB45"/>
<rect x="144.109" y="896.139" width="4.383" height="32.161" fill="#A8E55A"/>
<rect x="148.978" y="895.257" width="4.383" height="33.043" fill="#ECDB45"/>
<rect x="153.849" y="892.272" width="4.383" height="36.028" fill="#A8E55A"/>
<rect x="158.719" y="890.168" width="4.383" height="38.132" fill="#ECDB45"/>
<rect x="163.589" y="889.829" width="4.383" height="38.471" fill="#ECDB45"/>
<rect x="168.459" y="888.201" width="4.383" height="40.099" fill="#ECDB45"/>
<rect x="173.329" y="885.419" width="4.383" height="42.881" fill="#A8E55A"/>
<rect x="178.199" y="881.212" width="4.383" height="47.088" fill="#A8E55A"/>
<rect x="183.069" y="878.227" width="4.383" height="50.073" fill="#A8E55A"/>
<rect x="187.939" y="878.227" width="4.383" height="50.073" fill="#A8E55A"/>
<rect x="192.809" y="876.802" width="4.383" height="51.498" fill="#A8E55A"/>
<rect x="197.679" y="876.123" width="4.383" height="52.177" fill="#ECDB45"/>
<rect x="202.549" y="875.581" width="4.383" height="52.719" fill="#ECDB45"/>
<rect x="207.419" y="874.156" width="4.383" height="54.144" fill="#A8E55A"/>
<rect x="212.289" y="872.392" width="4.383" height="55.908" fill="#ECDB45"/>
<rect x="217.159" y="870.831" width="4.383" height="57.469" fill="#A8E55A"/>
<rect x="222.029" y="870.288" width="4.383" height="58.012" fill="#A8E55A"/>
<rect x="226.899" y="866.421" width="4.383" height="61.879" fill="#A8E55A"/>
<rect x="231.769" y="855.361" width="4.383" height="72.939" fill="#A8E55A"/>
<rect x="236.639" y="804.406" width="4.383" height="123.894" fill="#A8E55A"/>
<rect x="241.509" y="792.600" width="4.383" height="135.700" fill="#A8E55A"/>
<rect x="43.4" y="780.4" width="211.2" height="296.2" fill="none" stroke="#2B2B2B" stroke-width="2.8"/>
<line x1="38.1" x2="42" y1="792.60" y2="792.60" stroke="#4D4D4D" stroke-width="1.5"/>
<text x="35.40" y="796.50" font-family="Liberation Sans" font-size="11" fill="#4D4D4D" text-anchor="end" >2</text>
<line x1="38.1" x2="42" y1="860.45" y2="860.45" stroke="#4D4D4D" stroke-width="1.5"/>
<text x="35.40" y="864.35" font-family="Liberation Sans" font-size="11" fill="#4D4D4D" text-anchor="end" >1</text>
<line x1="38.1" x2="42" y1="928.30" y2="928.30" stroke="#4D4D4D" stroke-width="1.5"/>
<text x="35.40" y="932.20" font-family="Liberation Sans" font-size="11" fill="#4D4D4D" text-anchor="end" >0</text>
<line x1="38.1" x2="42" y1="996.15" y2="996.15" stroke="#4D4D4D" stroke-width="1.5"/>
<text x="35.40" y="1000.05" font-family="Liberation Sans" font-size="11" fill="#4D4D4D" text-anchor="end" >-1</text>
<line x1="38.1" x2="42" y1="1064.00" y2="1064.00" stroke="#4D4D4D" stroke-width="1.5"/>
<text x="35.40" y="1067.90" font-family="Liberation Sans" font-size="11" fill="#4D4D4D" text-anchor="end" >-2</text>
<line x1="48.90" x2="48.90" y1="1078" y2="1081.7" stroke="#4D4D4D" stroke-width="1.5"/>
<text x="48.90" y="1092.60" font-family="Liberation Sans" font-size="11" fill="#4D4D4D" text-anchor="middle" >0</text>
<line x1="97.60" x2="97.60" y1="1078" y2="1081.7" stroke="#4D4D4D" stroke-width="1.5"/>
<text x="97.60" y="1092.60" font-family="Liberation Sans" font-size="11" fill="#4D4D4D" text-anchor="middle" >10</text>
<line x1="146.30" x2="146.30" y1="1078" y2="1081.7" stroke="#4D4D4D" stroke-width="1.5"/>
<text x="146.30" y="1092.60" font-family="Liberation Sans" font-size="11" fill="#4D4D4D" text-anchor="middle" >20</text>
<line x1="195.00" x2="195.00" y1="1078" y2="1081.7" stroke="#4D4D4D" stroke-width="1.5"/>
<text x="195.00" y="1092.60" font-family="Liberation Sans" font-size="11" fill="#4D4D4D" text-anchor="middle" >30</text>
<line x1="243.70" x2="243.70" y1="1078" y2="1081.7" stroke="#4D4D4D" stroke-width="1.5"/>
<text x="243.70" y="1092.60" font-family="Liberation Sans" font-size="11" fill="#4D4D4D" text-anchor="middle" >40</text>
<rect x="434.90000000000003" y="29.400000000000002" width="241.40000000000003" height="288.3" fill="#F3F5F5"/>
<line x1="432.1" x2="679.1" y1="52.40" y2="52.40" stroke="#C6CACD" stroke-width="1.2" stroke-dasharray="5 5"/>
<line x1="432.1" x2="679.1" y1="115.95" y2="115.95" stroke="#C6CACD" stroke-width="1.2" stroke-dasharray="5 5"/>
<line x1="432.1" x2="679.1" y1="179.50" y2="179.50" stroke="#C6CACD" stroke-width="1.2" stroke-dasharray="5 5"/>
<line x1="432.1" x2="679.1" y1="243.05" y2="243.05" stroke="#C6CACD" stroke-width="1.2" stroke-dasharray="5 5"/>
<line x1="432.1" x2="679.1" y1="306.60" y2="306.60" stroke="#C6CACD" stroke-width="1.2" stroke-dasharray="5 5"/>
<line x1="499.20" x2="499.20" y1="320.5" y2="26.6" stroke="#C6CACD" stroke-width="1.2" stroke-dasharray="5 5"/>
<line x1="611.60" x2="611.60" y1="320.5" y2="26.6" stroke="#C6CACD" stroke-width="1.2" stroke-dasharray="5 5"/>
<circle cx="518.50" cy="52.20" r="3.5" fill="#A8E55A"/>
<circle cx="513.70" cy="57.50" r="3.5" fill="#A8E55A"/>
<circle cx="477.10" cy="77.90" r="3.5" fill="#A8E55A"/>
<circle cx="488.40" cy="83.50" r="3.5" fill="#A8E55A"/>
<circle cx="494.50" cy="86.80" r="3.5" fill="#A8E55A"/>
<circle cx="520.00" cy="83.90" r="3.5" fill="#A8E55A"/>
<circle cx="479.80" cy="92.70" r="3.5" fill="#A8E55A"/>
<circle cx="490.40" cy="95.60" r="3.5" fill="#A8E55A"/>
<circle cx="517.00" cy="92.00" r="3.5" fill="#A8E55A"/>
<circle cx="519.70" cy="96.40" r="3.5" fill="#A8E55A"/>
<circle cx="519.70" cy="101.20" r="3.5" fill="#A8E55A"/>
<circle cx="483.50" cy="102.00" r="3.5" fill="#A8E55A"/>
<circle cx="503.60" cy="99.60" r="3.5" fill="#A8E55A"/>
<circle cx="482.40" cy="185.20" r="3.5" fill="#A8E55A"/>
<circle cx="476.80" cy="166.20" r="3.5" fill="#A8E55A"/>
<circle cx="483.40" cy="167.20" r="3.5" fill="#A8E55A"/>
<circle cx="478.30" cy="172.90" r="3.5" fill="#A8E55A"/>
<circle cx="512.80" cy="172.90" r="3.5" fill="#A8E55A"/>
<circle cx="514.70" cy="175.10" r="3.5" fill="#A8E55A"/>
<circle cx="492.90" cy="158.60" r="3.5" fill="#A8E55A"/>
<circle cx="506.20" cy="161.50" r="3.5" fill="#A8E55A"/>
<circle cx="507.10" cy="155.80" r="3.5" fill="#A8E55A"/>
<circle cx="514.30" cy="163.40" r="3.5" fill="#A8E55A"/>
<circle cx="518.50" cy="153.90" r="3.5" fill="#A8E55A"/>
<circle cx="520.40" cy="150.10" r="3.5" fill="#A8E55A"/>
<circle cx="491.90" cy="148.20" r="3.5" fill="#A8E55A"/>
<circle cx="490.00" cy="143.40" r="3.5" fill="#A8E55A"/>
<circle cx="514.70" cy="146.30" r="3.5" fill="#A8E55A"/>
<circle cx="497.15" cy="170.98" r="3.5" fill="#A8E55A"/>
<circle cx="501.77" cy="168.10" r="3.5" fill="#A8E55A"/>
<circle cx="517.44" cy="162.80" r="3.5" fill="#A8E55A"/>
<circle cx="497.72" cy="160.02" r="3.5" fill="#A8E55A"/>
<circle cx="499.54" cy="159.06" r="3.5" fill="#A8E55A"/>
<circle cx="502.96" cy="157.65" r="3.5" fill="#A8E55A"/>
<circle cx="485.64" cy="156.93" r="3.5" fill="#A8E55A"/>
<circle cx="499.71" cy="156.62" r="3.5" fill="#A8E55A"/>
<circle cx="504.78" cy="152.28" r="3.5" fill="#A8E55A"/>
<circle cx="511.80" cy="151.09" r="3.5" fill="#A8E55A"/>
<circle cx="481.75" cy="148.88" r="3.5" fill="#A8E55A"/>
<circle cx="490.75" cy="148.49" r="3.5" fill="#A8E55A"/>
<circle cx="481.60" cy="147.72" r="3.5" fill="#A8E55A"/>
<circle cx="512.51" cy="146.86" r="3.5" fill="#A8E55A"/>
<circle cx="507.52" cy="145.05" r="3.5" fill="#A8E55A"/>
<circle cx="479.50" cy="144.57" r="3.5" fill="#A8E55A"/>
<circle cx="519.93" cy="142.21" r="3.5" fill="#A8E55A"/>
<circle cx="519.18" cy="140.72" r="3.5" fill="#A8E55A"/>
<circle cx="505.82" cy="140.28" r="3.5" fill="#A8E55A"/>
<circle cx="504.17" cy="139.52" r="3.5" fill="#A8E55A"/>
<circle cx="484.47" cy="139.22" r="3.5" fill="#A8E55A"/>
<circle cx="478.35" cy="138.64" r="3.5" fill="#A8E55A"/>
<circle cx="500.42" cy="138.34" r="3.5" fill="#A8E55A"/>
<circle cx="480.26" cy="138.05" r="3.5" fill="#A8E55A"/>
<circle cx="485.88" cy="137.82" r="3.5" fill="#A8E55A"/>
<circle cx="488.10" cy="137.68" r="3.5" fill="#A8E55A"/>
<circle cx="478.99" cy="137.41" r="3.5" fill="#A8E55A"/>
<circle cx="497.65" cy="137.28" r="3.5" fill="#A8E55A"/>
<circle cx="496.64" cy="137.14" r="3.5" fill="#A8E55A"/>
<circle cx="513.92" cy="136.73" r="3.5" fill="#A8E55A"/>
<circle cx="500.02" cy="136.60" r="3.5" fill="#A8E55A"/>
<circle cx="505.23" cy="136.46" r="3.5" fill="#A8E55A"/>
<circle cx="499.19" cy="134.41" r="3.5" fill="#A8E55A"/>
<circle cx="506.19" cy="133.64" r="3.5" fill="#A8E55A"/>
<circle cx="497.37" cy="133.37" r="3.5" fill="#A8E55A"/>
<circle cx="489.66" cy="133.09" r="3.5" fill="#A8E55A"/>
<circle cx="520.60" cy="132.28" r="3.5" fill="#A8E55A"/>
<circle cx="520.51" cy="132.01" r="3.5" fill="#A8E55A"/>
<circle cx="513.83" cy="131.74" r="3.5" fill="#A8E55A"/>
<circle cx="508.14" cy="131.47" r="3.5" fill="#A8E55A"/>
<circle cx="491.26" cy="131.20" r="3.5" fill="#A8E55A"/>
<circle cx="487.58" cy="130.93" r="3.5" fill="#A8E55A"/>
<circle cx="490.13" cy="130.12" r="3.5" fill="#A8E55A"/>
<circle cx="480.72" cy="129.59" r="3.5" fill="#A8E55A"/>
<circle cx="510.65" cy="129.32" r="3.5" fill="#A8E55A"/>
<circle cx="494.92" cy="128.78" r="3.5" fill="#A8E55A"/>
<circle cx="514.10" cy="128.24" r="3.5" fill="#A8E55A"/>
<circle cx="494.32" cy="127.96" r="3.5" fill="#A8E55A"/>
<circle cx="518.90" cy="127.63" r="3.5" fill="#A8E55A"/>
<circle cx="514.13" cy="127.30" r="3.5" fill="#A8E55A"/>
<circle cx="477.72" cy="126.97" r="3.5" fill="#A8E55A"/>
<circle cx="486.72" cy="126.32" r="3.5" fill="#A8E55A"/>
<circle cx="516.84" cy="125.99" r="3.5" fill="#A8E55A"/>
<circle cx="497.91" cy="125.66" r="3.5" fill="#A8E55A"/>
<circle cx="519.86" cy="125.33" r="3.5" fill="#A8E55A"/>
<circle cx="494.79" cy="124.67" r="3.5" fill="#A8E55A"/>
<circle cx="480.84" cy="124.34" r="3.5" fill="#A8E55A"/>
<circle cx="504.77" cy="123.89" r="3.5" fill="#A8E55A"/>
<circle cx="511.18" cy="123.36" r="3.5" fill="#A8E55A"/>
<circle cx="489.30" cy="122.83" r="3.5" fill="#A8E55A"/>
<circle cx="481.45" cy="122.30" r="3.5" fill="#A8E55A"/>
<circle cx="492.00" cy="121.78" r="3.5" fill="#A8E55A"/>
<circle cx="519.16" cy="121.51" r="3.5" fill="#A8E55A"/>
<circle cx="510.30" cy="120.33" r="3.5" fill="#A8E55A"/>
<circle cx="482.77" cy="119.64" r="3.5" fill="#A8E55A"/>
<circle cx="488.29" cy="118.95" r="3.5" fill="#A8E55A"/>
<circle cx="482.04" cy="117.57" r="3.5" fill="#A8E55A"/>
<circle cx="480.28" cy="117.11" r="3.5" fill="#A8E55A"/>
<circle cx="511.97" cy="116.89" r="3.5" fill="#A8E55A"/>
<circle cx="485.34" cy="116.67" r="3.5" fill="#A8E55A"/>
<circle cx="501.75" cy="116.45" r="3.5" fill="#A8E55A"/>
<circle cx="496.94" cy="116.23" r="3.5" fill="#A8E55A"/>
<circle cx="485.90" cy="116.02" r="3.5" fill="#A8E55A"/>
<circle cx="509.17" cy="115.87" r="3.5" fill="#A8E55A"/>
<circle cx="483.33" cy="115.76" r="3.5" fill="#A8E55A"/>
<circle cx="505.38" cy="115.65" r="3.5" fill="#A8E55A"/>
<circle cx="482.71" cy="115.54" r="3.5" fill="#A8E55A"/>
<circle cx="495.79" cy="115.43" r="3.5" fill="#A8E55A"/>
<circle cx="486.85" cy="115.31" r="3.5" fill="#A8E55A"/>
<circle cx="489.30" cy="113.81" r="3.5" fill="#A8E55A"/>
<circle cx="519.45" cy="112.36" r="3.5" fill="#A8E55A"/>
<circle cx="512.25" cy="111.37" r="3.5" fill="#A8E55A"/>
<circle cx="490.78" cy="110.38" r="3.5" fill="#A8E55A"/>
<circle cx="515.75" cy="109.50" r="3.5" fill="#A8E55A"/>
<circle cx="486.76" cy="109.05" r="3.5" fill="#A8E55A"/>
<circle cx="494.65" cy="108.60" r="3.5" fill="#A8E55A"/>
<circle cx="514.44" cy="108.14" r="3.5" fill="#A8E55A"/>
<circle cx="505.30" cy="107.69" r="3.5" fill="#A8E55A"/>
<circle cx="482.01" cy="103.24" r="3.5" fill="#A8E55A"/>
<circle cx="520.24" cy="102.60" r="3.5" fill="#A8E55A"/>
<circle cx="486.87" cy="98.37" r="3.5" fill="#A8E55A"/>
<circle cx="488.81" cy="96.89" r="3.5" fill="#A8E55A"/>
<circle cx="510.93" cy="96.76" r="3.5" fill="#A8E55A"/>
<circle cx="491.85" cy="96.63" r="3.5" fill="#A8E55A"/>
<circle cx="490.44" cy="96.50" r="3.5" fill="#A8E55A"/>
<circle cx="480.86" cy="91.17" r="3.5" fill="#A8E55A"/>
<line x1="499.20" x2="499.20" y1="78.01" y2="115.00" stroke="#000" stroke-width="1.6"/>
<line x1="499.20" x2="499.20" y1="140.23" y2="174.67" stroke="#000" stroke-width="1.6"/>
<rect x="456.70" y="115.00" width="85.00" height="25.23" fill="#A8E55A" fill-opacity="0.75" stroke="#000" stroke-width="1.6"/>
<line x1="456.70" x2="541.70" y1="127.33" y2="127.33" stroke="#000" stroke-width="3"/>
<path d="M501.60,52.72 L501.55,53.04 L501.47,53.45 L501.39,53.94 L501.29,54.49 L501.19,55.08 L501.08,55.70 L500.98,56.31 L500.88,56.91 L500.80,57.48 L500.73,57.97 L500.65,58.45 L500.57,58.93 L500.49,59.40 L500.42,59.89 L500.35,60.38 L500.29,60.89 L500.25,61.42 L500.21,61.98 L500.20,62.57 L500.20,63.05 L500.20,63.56 L500.21,64.10 L500.22,64.66 L500.23,65.23 L500.26,65.81 L500.29,66.39 L500.33,66.97 L500.38,67.53 L500.45,68.08 L500.52,68.60 L500.60,69.10 L500.70,69.56 L500.89,70.23 L501.11,70.81 L501.36,71.34 L501.64,71.84 L501.93,72.33 L502.25,72.84 L502.57,73.39 L502.90,74.01 L503.12,74.45 L503.33,74.89 L503.55,75.35 L503.77,75.81 L504.00,76.28 L504.23,76.77 L504.48,77.27 L504.74,77.78 L505.02,78.32 L505.32,78.87 L505.65,79.45 L506.00,80.04 L506.27,80.48 L506.55,80.94 L506.85,81.40 L507.15,81.88 L507.47,82.37 L507.80,82.87 L508.14,83.38 L508.49,83.90 L508.84,84.42 L509.19,84.94 L509.55,85.47 L509.91,86.00 L510.28,86.53 L510.64,87.06 L511.00,87.58 L511.35,88.11 L511.70,88.62 L512.05,89.14 L512.39,89.66 L512.74,90.17 L513.09,90.70 L513.44,91.22 L513.79,91.74 L514.14,92.26 L514.49,92.79 L514.85,93.32 L515.20,93.84 L515.56,94.37 L515.93,94.89 L516.29,95.42 L516.66,95.95 L517.04,96.47 L517.42,97.00 L517.80,97.52 L518.19,98.05 L518.58,98.59 L518.97,99.13 L519.36,99.68 L519.76,100.23 L520.16,100.79 L520.57,101.34 L520.98,101.89 L521.39,102.44 L521.80,102.98 L522.22,103.51 L522.64,104.03 L523.07,104.54 L523.49,105.04 L523.93,105.52 L524.36,105.98 L524.80,106.42 L525.48,107.06 L526.15,107.65 L526.81,108.20 L527.48,108.72 L528.17,109.22 L528.86,109.70 L529.58,110.17 L530.33,110.64 L531.11,111.12 L531.93,111.62 L532.80,112.14 L533.75,112.67 L534.78,113.21 L535.89,113.75 L537.04,114.29 L538.22,114.84 L539.39,115.39 L540.54,115.93 L541.64,116.48 L542.66,117.03 L543.59,117.57 L544.40,118.11 L545.10,118.66 L545.73,119.22 L546.29,119.80 L546.79,120.37 L547.23,120.94 L547.63,121.51 L547.98,122.06 L548.30,122.59 L548.59,123.10 L548.85,123.58 L549.10,124.02 L549.47,124.71 L549.69,125.28 L549.81,125.78 L549.83,126.26 L549.79,126.78 L549.70,127.39 L549.62,127.85 L549.52,128.35 L549.38,128.86 L549.22,129.39 L549.02,129.93 L548.80,130.48 L548.53,131.03 L548.24,131.56 L547.90,132.09 L547.53,132.61 L547.14,133.13 L546.72,133.64 L546.27,134.16 L545.77,134.67 L545.23,135.19 L544.64,135.70 L544.00,136.22 L543.30,136.73 L542.50,137.25 L541.59,137.78 L540.60,138.31 L539.57,138.85 L538.51,139.38 L537.46,139.90 L536.46,140.41 L535.53,140.90 L534.70,141.37 L533.76,141.95 L532.91,142.52 L532.13,143.06 L531.42,143.59 L530.75,144.08 L530.11,144.55 L529.50,144.99 L528.54,145.66 L527.73,146.21 L526.98,146.73 L526.20,147.28 L525.37,147.88 L524.54,148.49 L523.72,149.10 L522.90,149.70 L522.10,150.22 L521.30,150.70 L520.50,151.25 L519.70,151.98 L519.33,152.39 L518.95,152.85 L518.56,153.35 L518.17,153.88 L517.79,154.42 L517.41,154.98 L517.05,155.54 L516.71,156.09 L516.40,156.62 L516.12,157.15 L515.86,157.68 L515.62,158.21 L515.40,158.74 L515.18,159.27 L514.97,159.80 L514.76,160.34 L514.54,160.86 L514.30,161.39 L514.06,161.91 L513.82,162.43 L513.58,162.94 L513.34,163.46 L513.09,163.97 L512.83,164.48 L512.57,164.99 L512.29,165.51 L512.00,166.03 L511.69,166.55 L511.36,167.07 L511.02,167.59 L510.67,168.12 L510.31,168.64 L509.96,169.16 L509.60,169.69 L509.24,170.21 L508.90,170.73 L508.56,171.25 L508.22,171.76 L507.88,172.28 L507.54,172.79 L507.20,173.30 L506.87,173.82 L506.54,174.33 L506.22,174.85 L505.90,175.37 L505.59,175.89 L505.28,176.42 L504.98,176.96 L504.68,177.49 L504.39,178.02 L504.10,178.56 L503.82,179.09 L503.56,179.61 L503.30,180.14 L503.05,180.67 L502.81,181.23 L502.58,181.80 L502.36,182.37 L502.14,182.92 L501.94,183.45 L501.75,183.93 L501.57,184.35 L501.40,184.71 L500.78,185.57 L500.40,185.85 L498.00,185.85 L497.62,185.57 L497.00,184.71 L496.83,184.35 L496.65,183.93 L496.46,183.45 L496.26,182.92 L496.04,182.37 L495.82,181.80 L495.59,181.23 L495.35,180.67 L495.10,180.14 L494.84,179.61 L494.58,179.09 L494.30,178.56 L494.01,178.02 L493.72,177.49 L493.42,176.96 L493.12,176.42 L492.81,175.89 L492.50,175.37 L492.18,174.85 L491.86,174.33 L491.53,173.82 L491.20,173.30 L490.86,172.79 L490.52,172.28 L490.18,171.76 L489.84,171.25 L489.50,170.73 L489.16,170.21 L488.80,169.69 L488.44,169.16 L488.09,168.64 L487.73,168.12 L487.38,167.59 L487.04,167.07 L486.71,166.55 L486.40,166.03 L486.11,165.51 L485.83,164.99 L485.57,164.48 L485.31,163.97 L485.06,163.46 L484.82,162.94 L484.58,162.43 L484.34,161.91 L484.10,161.39 L483.86,160.86 L483.64,160.34 L483.43,159.80 L483.22,159.27 L483.00,158.74 L482.78,158.21 L482.54,157.68 L482.28,157.15 L482.00,156.62 L481.69,156.09 L481.35,155.54 L480.99,154.98 L480.61,154.42 L480.23,153.88 L479.84,153.35 L479.45,152.85 L479.07,152.39 L478.70,151.98 L477.90,151.25 L477.10,150.70 L476.30,150.22 L475.50,149.70 L474.68,149.10 L473.86,148.49 L473.03,147.88 L472.20,147.28 L471.42,146.73 L470.67,146.21 L469.86,145.66 L468.90,144.99 L468.29,144.55 L467.65,144.08 L466.98,143.59 L466.27,143.06 L465.49,142.52 L464.64,141.95 L463.70,141.37 L462.87,140.90 L461.94,140.41 L460.94,139.90 L459.89,139.38 L458.83,138.85 L457.80,138.31 L456.81,137.78 L455.90,137.25 L455.10,136.73 L454.40,136.22 L453.76,135.70 L453.17,135.19 L452.63,134.67 L452.13,134.16 L451.68,133.64 L451.26,133.13 L450.87,132.61 L450.50,132.09 L450.16,131.56 L449.87,131.03 L449.60,130.48 L449.38,129.93 L449.18,129.39 L449.02,128.86 L448.88,128.35 L448.78,127.85 L448.70,127.39 L448.61,126.78 L448.57,126.26 L448.59,125.78 L448.71,125.28 L448.93,124.71 L449.30,124.02 L449.55,123.58 L449.81,123.10 L450.10,122.59 L450.42,122.06 L450.77,121.51 L451.17,120.94 L451.61,120.37 L452.11,119.80 L452.67,119.22 L453.30,118.66 L454.00,118.11 L454.81,117.57 L455.74,117.03 L456.76,116.48 L457.86,115.93 L459.01,115.39 L460.18,114.84 L461.36,114.29 L462.51,113.75 L463.62,113.21 L464.65,112.67 L465.60,112.14 L466.47,111.62 L467.29,111.12 L468.07,110.64 L468.82,110.17 L469.54,109.70 L470.23,109.22 L470.92,108.72 L471.59,108.20 L472.25,107.65 L472.92,107.06 L473.60,106.42 L474.04,105.98 L474.47,105.52 L474.91,105.04 L475.33,104.54 L475.76,104.03 L476.18,103.51 L476.60,102.98 L477.01,102.44 L477.42,101.89 L477.83,101.34 L478.24,100.79 L478.64,100.23 L479.04,99.68 L479.43,99.13 L479.82,98.59 L480.21,98.05 L480.60,97.52 L480.98,97.00 L481.36,96.47 L481.74,95.95 L482.11,95.42 L482.47,94.89 L482.84,94.37 L483.20,93.84 L483.55,93.32 L483.91,92.79 L484.26,92.26 L484.61,91.74 L484.96,91.22 L485.31,90.70 L485.66,90.17 L486.01,89.66 L486.35,89.14 L486.70,88.62 L487.05,88.11 L487.40,87.58 L487.76,87.06 L488.12,86.53 L488.49,86.00 L488.85,85.47 L489.21,84.94 L489.56,84.42 L489.91,83.90 L490.26,83.38 L490.60,82.87 L490.93,82.37 L491.25,81.88 L491.55,81.40 L491.85,80.94 L492.13,80.48 L492.40,80.04 L492.75,79.45 L493.08,78.87 L493.38,78.32 L493.66,77.78 L493.92,77.27 L494.17,76.77 L494.40,76.28 L494.63,75.81 L494.85,75.35 L495.07,74.89 L495.28,74.45 L495.50,74.01 L495.83,73.39 L496.15,72.84 L496.47,72.33 L496.76,71.84 L497.04,71.34 L497.29,70.81 L497.51,70.23 L497.70,69.56 L497.80,69.10 L497.88,68.60 L497.95,68.08 L498.02,67.53 L498.07,66.97 L498.11,66.39 L498.14,65.81 L498.17,65.23 L498.18,64.66 L498.19,64.10 L498.20,63.56 L498.20,63.05 L498.20,62.57 L498.19,61.98 L498.15,61.42 L498.11,60.89 L498.05,60.38 L497.98,59.89 L497.91,59.40 L497.83,58.93 L497.75,58.45 L497.67,57.97 L497.60,57.48 L497.52,56.91 L497.42,56.31 L497.32,55.70 L497.21,55.08 L497.11,54.49 L497.01,53.94 L496.93,53.45 L496.85,53.04 L496.80,52.72 Z" fill="#A8E55A" fill-opacity="0.5"/>
<circle cx="624.40" cy="80.30" r="3.5" fill="#ECDB45"/>
<circle cx="602.20" cy="220.20" r="3.5" fill="#ECDB45"/>
<circle cx="631.60" cy="216.60" r="3.5" fill="#ECDB45"/>
<circle cx="617.40" cy="206.20" r="3.5" fill="#ECDB45"/>
<circle cx="592.70" cy="238.80" r="3.5" fill="#ECDB45"/>
<circle cx="611.70" cy="238.80" r="3.5" fill="#ECDB45"/>
<circle cx="612.60" cy="250.20" r="3.5" fill="#ECDB45"/>
<circle cx="630.90" cy="249.30" r="3.5" fill="#ECDB45"/>
<circle cx="628.40" cy="270.50" r="3.5" fill="#ECDB45"/>
<circle cx="630.30" cy="306.80" r="3.5" fill="#ECDB45"/>
<circle cx="597.40" cy="121.70" r="3.5" fill="#ECDB45"/>
<circle cx="606.60" cy="121.10" r="3.5" fill="#ECDB45"/>
<circle cx="627.80" cy="120.70" r="3.5" fill="#ECDB45"/>
<circle cx="625.90" cy="125.50" r="3.5" fill="#ECDB45"/>
<circle cx="614.50" cy="131.20" r="3.5" fill="#ECDB45"/>
<circle cx="592.70" cy="137.80" r="3.5" fill="#ECDB45"/>
<circle cx="618.30" cy="139.70" r="3.5" fill="#ECDB45"/>
<circle cx="626.90" cy="137.80" r="3.5" fill="#ECDB45"/>
<circle cx="630.70" cy="141.60" r="3.5" fill="#ECDB45"/>
<circle cx="603.10" cy="134.00" r="3.5" fill="#ECDB45"/>
<circle cx="606.90" cy="143.50" r="3.5" fill="#ECDB45"/>
<circle cx="588.90" cy="185.70" r="3.5" fill="#ECDB45"/>
<circle cx="595.50" cy="193.30" r="3.5" fill="#ECDB45"/>
<circle cx="597.40" cy="196.10" r="3.5" fill="#ECDB45"/>
<circle cx="607.90" cy="198.00" r="3.5" fill="#ECDB45"/>
<circle cx="617.40" cy="196.70" r="3.5" fill="#ECDB45"/>
<circle cx="620.20" cy="190.40" r="3.5" fill="#ECDB45"/>
<circle cx="626.90" cy="186.60" r="3.5" fill="#ECDB45"/>
<circle cx="633.50" cy="183.80" r="3.5" fill="#ECDB45"/>
<circle cx="605.00" cy="190.40" r="3.5" fill="#ECDB45"/>
<circle cx="610.51" cy="189.03" r="3.5" fill="#ECDB45"/>
<circle cx="618.37" cy="187.76" r="3.5" fill="#ECDB45"/>
<circle cx="618.76" cy="185.38" r="3.5" fill="#ECDB45"/>
<circle cx="596.23" cy="184.90" r="3.5" fill="#ECDB45"/>
<circle cx="590.57" cy="184.58" r="3.5" fill="#ECDB45"/>
<circle cx="606.21" cy="184.27" r="3.5" fill="#ECDB45"/>
<circle cx="601.88" cy="183.31" r="3.5" fill="#ECDB45"/>
<circle cx="624.94" cy="182.52" r="3.5" fill="#ECDB45"/>
<circle cx="619.80" cy="181.72" r="3.5" fill="#ECDB45"/>
<circle cx="615.96" cy="181.09" r="3.5" fill="#ECDB45"/>
<circle cx="614.10" cy="180.45" r="3.5" fill="#ECDB45"/>
<circle cx="618.54" cy="179.82" r="3.5" fill="#ECDB45"/>
<circle cx="596.35" cy="179.18" r="3.5" fill="#ECDB45"/>
<circle cx="609.02" cy="178.61" r="3.5" fill="#ECDB45"/>
<circle cx="597.08" cy="177.50" r="3.5" fill="#ECDB45"/>
<circle cx="629.06" cy="176.39" r="3.5" fill="#ECDB45"/>
<circle cx="592.63" cy="175.71" r="3.5" fill="#ECDB45"/>
<circle cx="625.31" cy="175.32" r="3.5" fill="#ECDB45"/>
<circle cx="593.31" cy="174.94" r="3.5" fill="#ECDB45"/>
<circle cx="619.64" cy="173.78" r="3.5" fill="#ECDB45"/>
<circle cx="604.59" cy="172.84" r="3.5" fill="#ECDB45"/>
<circle cx="607.50" cy="170.14" r="3.5" fill="#ECDB45"/>
<circle cx="626.32" cy="169.39" r="3.5" fill="#ECDB45"/>
<circle cx="590.90" cy="169.07" r="3.5" fill="#ECDB45"/>
<circle cx="592.71" cy="168.75" r="3.5" fill="#ECDB45"/>
<circle cx="629.45" cy="168.42" r="3.5" fill="#ECDB45"/>
<circle cx="611.98" cy="167.78" r="3.5" fill="#ECDB45"/>
<circle cx="594.01" cy="167.49" r="3.5" fill="#ECDB45"/>
<circle cx="632.55" cy="166.92" r="3.5" fill="#ECDB45"/>
<circle cx="630.81" cy="166.63" r="3.5" fill="#ECDB45"/>
<circle cx="594.94" cy="165.87" r="3.5" fill="#ECDB45"/>
<circle cx="608.30" cy="165.36" r="3.5" fill="#ECDB45"/>
<circle cx="595.91" cy="164.84" r="3.5" fill="#ECDB45"/>
<circle cx="603.54" cy="164.33" r="3.5" fill="#ECDB45"/>
<circle cx="616.82" cy="163.89" r="3.5" fill="#ECDB45"/>
<circle cx="597.13" cy="163.50" r="3.5" fill="#ECDB45"/>
<circle cx="620.06" cy="162.20" r="3.5" fill="#ECDB45"/>
<circle cx="592.31" cy="161.90" r="3.5" fill="#ECDB45"/>
<circle cx="597.46" cy="161.60" r="3.5" fill="#ECDB45"/>
<circle cx="625.17" cy="161.30" r="3.5" fill="#ECDB45"/>
<circle cx="607.32" cy="160.99" r="3.5" fill="#ECDB45"/>
<circle cx="608.11" cy="160.68" r="3.5" fill="#ECDB45"/>
<circle cx="615.73" cy="160.37" r="3.5" fill="#ECDB45"/>
<circle cx="610.60" cy="159.54" r="3.5" fill="#ECDB45"/>
<circle cx="606.64" cy="157.04" r="3.5" fill="#ECDB45"/>
<circle cx="591.41" cy="156.83" r="3.5" fill="#ECDB45"/>
<circle cx="621.33" cy="156.72" r="3.5" fill="#ECDB45"/>
<circle cx="631.70" cy="156.46" r="3.5" fill="#ECDB45"/>
<circle cx="632.08" cy="156.20" r="3.5" fill="#ECDB45"/>
<circle cx="618.63" cy="155.94" r="3.5" fill="#ECDB45"/>
<circle cx="605.42" cy="155.68" r="3.5" fill="#ECDB45"/>
<circle cx="605.71" cy="155.01" r="3.5" fill="#ECDB45"/>
<circle cx="619.77" cy="154.63" r="3.5" fill="#ECDB45"/>
<circle cx="619.07" cy="154.24" r="3.5" fill="#ECDB45"/>
<circle cx="594.99" cy="153.85" r="3.5" fill="#ECDB45"/>
<circle cx="600.20" cy="153.46" r="3.5" fill="#ECDB45"/>
<circle cx="605.72" cy="153.06" r="3.5" fill="#ECDB45"/>
<circle cx="612.09" cy="149.44" r="3.5" fill="#ECDB45"/>
<circle cx="624.93" cy="149.27" r="3.5" fill="#ECDB45"/>
<circle cx="611.60" cy="149.11" r="3.5" fill="#ECDB45"/>
<circle cx="591.31" cy="147.32" r="3.5" fill="#ECDB45"/>
<circle cx="625.47" cy="145.95" r="3.5" fill="#ECDB45"/>
<circle cx="608.60" cy="145.50" r="3.5" fill="#ECDB45"/>
<circle cx="612.42" cy="143.13" r="3.5" fill="#ECDB45"/>
<circle cx="599.65" cy="142.67" r="3.5" fill="#ECDB45"/>
<circle cx="608.47" cy="141.23" r="3.5" fill="#ECDB45"/>
<circle cx="606.79" cy="140.04" r="3.5" fill="#ECDB45"/>
<circle cx="623.29" cy="138.93" r="3.5" fill="#ECDB45"/>
<circle cx="594.51" cy="136.87" r="3.5" fill="#ECDB45"/>
<circle cx="613.75" cy="136.33" r="3.5" fill="#ECDB45"/>
<circle cx="597.76" cy="135.51" r="3.5" fill="#ECDB45"/>
<circle cx="620.02" cy="132.55" r="3.5" fill="#ECDB45"/>
<circle cx="591.68" cy="130.39" r="3.5" fill="#ECDB45"/>
<circle cx="601.99" cy="129.86" r="3.5" fill="#ECDB45"/>
<circle cx="604.90" cy="129.05" r="3.5" fill="#ECDB45"/>
<circle cx="617.49" cy="128.51" r="3.5" fill="#ECDB45"/>
<circle cx="592.34" cy="126.64" r="3.5" fill="#ECDB45"/>
<line x1="611.60" x2="611.60" y1="121.10" y2="147.28" stroke="#000" stroke-width="1.6"/>
<line x1="611.60" x2="611.60" y1="180.90" y2="219.92" stroke="#000" stroke-width="1.6"/>
<rect x="569.10" y="147.28" width="85.00" height="33.62" fill="#ECDB45" fill-opacity="0.75" stroke="#000" stroke-width="1.6"/>
<line x1="569.10" x2="654.10" y1="162.53" y2="162.53" stroke="#000" stroke-width="3"/>
<path d="M612.40,79.98 L612.40,80.25 L612.40,80.57 L612.40,80.92 L612.40,81.32 L612.39,81.74 L612.39,82.20 L612.39,82.68 L612.38,83.19 L612.38,83.72 L612.38,84.26 L612.38,84.82 L612.37,85.39 L612.37,85.97 L612.37,86.55 L612.37,87.14 L612.37,87.72 L612.37,88.30 L612.37,88.87 L612.38,89.43 L612.38,89.97 L612.39,90.50 L612.39,91.00 L612.40,91.48 L612.41,92.02 L612.42,92.57 L612.43,93.11 L612.44,93.66 L612.46,94.20 L612.47,94.74 L612.49,95.28 L612.50,95.82 L612.52,96.35 L612.54,96.87 L612.56,97.39 L612.58,97.89 L612.60,98.39 L612.62,98.88 L612.65,99.36 L612.68,99.82 L612.70,100.27 L612.73,100.70 L612.77,101.12 L612.80,101.52 L612.86,102.20 L612.91,102.82 L612.96,103.38 L613.01,103.90 L613.07,104.39 L613.14,104.85 L613.22,105.30 L613.32,105.75 L613.45,106.21 L613.61,106.68 L613.80,107.18 L614.02,107.69 L614.26,108.20 L614.52,108.70 L614.80,109.19 L615.10,109.69 L615.43,110.20 L615.78,110.71 L616.15,111.23 L616.54,111.77 L616.96,112.32 L617.40,112.90 L617.77,113.37 L618.17,113.85 L618.60,114.34 L619.04,114.85 L619.51,115.36 L619.98,115.88 L620.47,116.40 L620.96,116.93 L621.45,117.46 L621.94,117.99 L622.42,118.52 L622.90,119.05 L623.36,119.57 L623.80,120.08 L624.23,120.59 L624.64,121.10 L625.05,121.61 L625.46,122.12 L625.85,122.62 L626.25,123.13 L626.64,123.64 L627.04,124.15 L627.43,124.65 L627.83,125.16 L628.24,125.67 L628.65,126.18 L629.07,126.69 L629.50,127.20 L629.94,127.71 L630.39,128.22 L630.85,128.73 L631.32,129.25 L631.80,129.76 L632.27,130.27 L632.75,130.78 L633.23,131.30 L633.70,131.81 L634.18,132.33 L634.65,132.84 L635.11,133.35 L635.56,133.87 L636.00,134.38 L636.43,134.89 L636.86,135.41 L637.27,135.92 L637.69,136.43 L638.09,136.95 L638.50,137.46 L638.90,137.97 L639.30,138.49 L639.70,139.00 L640.09,139.51 L640.49,140.03 L640.89,140.54 L641.29,141.05 L641.70,141.56 L642.11,142.07 L642.53,142.58 L642.96,143.09 L643.39,143.60 L643.82,144.10 L644.25,144.61 L644.68,145.12 L645.10,145.62 L645.52,146.13 L645.92,146.64 L646.32,147.15 L646.70,147.66 L647.06,148.17 L647.40,148.68 L647.73,149.19 L648.04,149.71 L648.34,150.23 L648.63,150.74 L648.91,151.26 L649.18,151.78 L649.44,152.30 L649.69,152.82 L649.93,153.34 L650.16,153.86 L650.38,154.38 L650.59,154.90 L650.80,155.41 L651.00,155.92 L651.20,156.43 L651.41,156.94 L651.61,157.44 L651.82,157.95 L652.02,158.45 L652.21,158.95 L652.38,159.45 L652.54,159.95 L652.67,160.45 L652.79,160.95 L652.87,161.46 L652.92,161.96 L652.93,162.47 L652.90,162.98 L652.83,163.49 L652.72,164.00 L652.57,164.52 L652.39,165.04 L652.17,165.56 L651.94,166.08 L651.68,166.60 L651.41,167.12 L651.12,167.64 L650.82,168.16 L650.51,168.68 L650.21,169.20 L649.90,169.71 L649.60,170.22 L649.30,170.73 L648.99,171.24 L648.68,171.74 L648.36,172.25 L648.03,172.75 L647.69,173.25 L647.34,173.75 L646.99,174.25 L646.62,174.75 L646.24,175.25 L645.85,175.75 L645.44,176.26 L645.03,176.77 L644.60,177.28 L644.15,177.79 L643.69,178.30 L643.21,178.82 L642.72,179.34 L642.22,179.86 L641.70,180.38 L641.18,180.90 L640.64,181.42 L640.11,181.94 L639.57,182.46 L639.02,182.98 L638.48,183.49 L637.94,184.01 L637.40,184.52 L636.86,185.03 L636.32,185.54 L635.77,186.05 L635.22,186.55 L634.66,187.06 L634.10,187.56 L633.54,188.06 L632.98,188.57 L632.42,189.07 L631.85,189.57 L631.29,190.07 L630.72,190.57 L630.16,191.07 L629.60,191.57 L628.98,192.13 L628.34,192.70 L627.68,193.29 L627.01,193.88 L626.33,194.48 L625.66,195.07 L625.00,195.65 L624.36,196.22 L623.75,196.76 L623.17,197.27 L622.63,197.75 L622.14,198.18 L621.70,198.56 L620.65,199.41 L619.99,199.84 L619.52,200.22 L619.00,200.92 L618.76,201.34 L618.52,201.81 L618.28,202.33 L618.06,202.88 L617.83,203.46 L617.61,204.05 L617.40,204.65 L617.19,205.24 L616.99,205.82 L616.80,206.38 L616.61,206.92 L616.43,207.46 L616.25,208.00 L616.08,208.54 L615.91,209.08 L615.75,209.62 L615.60,210.16 L615.46,210.70 L615.32,211.24 L615.20,211.78 L615.09,212.28 L614.99,212.78 L614.90,213.29 L614.81,213.79 L614.73,214.30 L614.65,214.80 L614.58,215.31 L614.52,215.81 L614.47,216.31 L614.43,216.81 L614.40,217.31 L614.38,217.86 L614.37,218.40 L614.37,218.94 L614.38,219.48 L614.40,220.01 L614.43,220.55 L614.46,221.09 L614.51,221.63 L614.55,222.17 L614.60,222.71 L614.65,223.21 L614.72,223.71 L614.79,224.21 L614.87,224.72 L614.95,225.22 L615.04,225.73 L615.12,226.23 L615.20,226.74 L615.28,227.24 L615.34,227.74 L615.40,228.24 L615.45,228.79 L615.49,229.34 L615.53,229.89 L615.56,230.43 L615.59,230.98 L615.61,231.52 L615.63,232.07 L615.65,232.61 L615.68,233.16 L615.70,233.71 L615.72,234.21 L615.75,234.71 L615.77,235.21 L615.79,235.72 L615.81,236.22 L615.83,236.72 L615.85,237.23 L615.86,237.73 L615.88,238.23 L615.89,238.74 L615.90,239.24 L615.91,239.79 L615.92,240.34 L615.94,240.89 L615.95,241.43 L615.96,241.98 L615.96,242.53 L615.96,243.07 L615.95,243.62 L615.93,244.16 L615.90,244.70 L615.86,245.24 L615.81,245.78 L615.75,246.31 L615.69,246.84 L615.62,247.37 L615.54,247.90 L615.46,248.43 L615.38,248.97 L615.29,249.50 L615.20,250.04 L615.10,250.58 L615.00,251.13 L614.89,251.67 L614.77,252.22 L614.66,252.77 L614.54,253.32 L614.42,253.87 L614.31,254.42 L614.20,254.96 L614.10,255.51 L614.01,256.04 L613.91,256.58 L613.82,257.10 L613.73,257.63 L613.65,258.16 L613.57,258.69 L613.49,259.22 L613.42,259.75 L613.36,260.30 L613.30,260.84 L613.25,261.33 L613.22,261.79 L613.18,262.24 L613.15,262.68 L613.13,263.13 L613.11,263.60 L613.09,264.09 L613.07,264.63 L613.05,265.21 L613.03,265.85 L613.00,266.56 L612.99,266.97 L612.97,267.39 L612.96,267.84 L612.94,268.30 L612.93,268.78 L612.91,269.28 L612.90,269.79 L612.88,270.31 L612.87,270.84 L612.85,271.38 L612.84,271.92 L612.83,272.47 L612.81,273.02 L612.80,273.58 L612.78,274.13 L612.77,274.68 L612.75,275.23 L612.74,275.78 L612.73,276.32 L612.71,276.85 L612.70,277.37 L612.69,277.88 L612.67,278.40 L612.66,278.91 L612.65,279.42 L612.64,279.94 L612.62,280.45 L612.61,280.97 L612.60,281.48 L612.59,282.00 L612.58,282.51 L612.57,283.03 L612.55,283.54 L612.54,284.05 L612.53,284.57 L612.52,285.08 L612.51,285.60 L612.50,286.11 L612.49,286.63 L612.47,287.14 L612.46,287.66 L612.45,288.17 L612.44,288.69 L612.43,289.21 L612.41,289.74 L612.40,290.27 L612.39,290.81 L612.37,291.35 L612.36,291.89 L612.34,292.43 L612.33,292.97 L612.32,293.50 L612.30,294.04 L612.29,294.57 L612.28,295.09 L612.26,295.61 L612.25,296.12 L612.24,296.62 L612.23,297.11 L612.22,297.60 L612.21,298.07 L612.21,298.53 L612.20,298.97 L612.19,299.59 L612.19,300.21 L612.18,300.82 L612.18,301.43 L612.18,302.03 L612.18,302.62 L612.18,303.19 L612.19,303.73 L612.19,304.25 L612.19,304.74 L612.19,305.20 L612.20,305.61 L612.20,305.99 L612.20,306.32 L612.20,306.60 L611.00,306.60 L611.00,306.32 L611.00,305.99 L611.00,305.61 L611.01,305.20 L611.01,304.74 L611.01,304.25 L611.01,303.73 L611.02,303.19 L611.02,302.62 L611.02,302.03 L611.02,301.43 L611.02,300.82 L611.01,300.21 L611.01,299.59 L611.00,298.97 L610.99,298.53 L610.99,298.07 L610.98,297.60 L610.97,297.11 L610.96,296.62 L610.95,296.12 L610.94,295.61 L610.92,295.09 L610.91,294.57 L610.90,294.04 L610.88,293.50 L610.87,292.97 L610.86,292.43 L610.84,291.89 L610.83,291.35 L610.81,290.81 L610.80,290.27 L610.79,289.74 L610.77,289.21 L610.76,288.69 L610.75,288.17 L610.74,287.66 L610.73,287.14 L610.71,286.63 L610.70,286.11 L610.69,285.60 L610.68,285.08 L610.67,284.57 L610.66,284.05 L610.65,283.54 L610.63,283.03 L610.62,282.51 L610.61,282.00 L610.60,281.48 L610.59,280.97 L610.58,280.45 L610.56,279.94 L610.55,279.42 L610.54,278.91 L610.53,278.40 L610.51,277.88 L610.50,277.37 L610.49,276.85 L610.47,276.32 L610.46,275.78 L610.45,275.23 L610.43,274.68 L610.42,274.13 L610.40,273.58 L610.39,273.02 L610.37,272.47 L610.36,271.92 L610.35,271.38 L610.33,270.84 L610.32,270.31 L610.30,269.79 L610.29,269.28 L610.27,268.78 L610.26,268.30 L610.24,267.84 L610.23,267.39 L610.21,266.97 L610.20,266.56 L610.17,265.85 L610.15,265.21 L610.13,264.63 L610.11,264.09 L610.09,263.60 L610.07,263.13 L610.05,262.68 L610.02,262.24 L609.98,261.79 L609.95,261.33 L609.90,260.84 L609.84,260.30 L609.78,259.75 L609.71,259.22 L609.63,258.69 L609.55,258.16 L609.47,257.63 L609.38,257.10 L609.29,256.58 L609.19,256.04 L609.10,255.51 L609.00,254.96 L608.89,254.42 L608.78,253.87 L608.66,253.32 L608.54,252.77 L608.43,252.22 L608.31,251.67 L608.20,251.13 L608.10,250.58 L608.00,250.04 L607.91,249.50 L607.82,248.97 L607.74,248.43 L607.66,247.90 L607.58,247.37 L607.51,246.84 L607.45,246.31 L607.39,245.78 L607.34,245.24 L607.30,244.70 L607.27,244.16 L607.25,243.62 L607.24,243.07 L607.24,242.53 L607.24,241.98 L607.25,241.43 L607.26,240.89 L607.28,240.34 L607.29,239.79 L607.30,239.24 L607.31,238.74 L607.32,238.23 L607.34,237.73 L607.35,237.23 L607.37,236.72 L607.39,236.22 L607.41,235.72 L607.43,235.21 L607.45,234.71 L607.48,234.21 L607.50,233.71 L607.52,233.16 L607.55,232.61 L607.57,232.07 L607.59,231.52 L607.61,230.98 L607.64,230.43 L607.67,229.89 L607.71,229.34 L607.75,228.79 L607.80,228.24 L607.86,227.74 L607.92,227.24 L608.00,226.74 L608.08,226.23 L608.16,225.73 L608.25,225.22 L608.33,224.72 L608.41,224.21 L608.48,223.71 L608.55,223.21 L608.60,222.71 L608.65,222.17 L608.69,221.63 L608.74,221.09 L608.77,220.55 L608.80,220.01 L608.82,219.48 L608.83,218.94 L608.83,218.40 L608.82,217.86 L608.80,217.31 L608.77,216.81 L608.73,216.31 L608.68,215.81 L608.62,215.31 L608.55,214.80 L608.47,214.30 L608.39,213.79 L608.30,213.29 L608.21,212.78 L608.11,212.28 L608.00,211.78 L607.88,211.24 L607.74,210.70 L607.60,210.16 L607.45,209.62 L607.29,209.08 L607.12,208.54 L606.95,208.00 L606.77,207.46 L606.59,206.92 L606.40,206.38 L606.21,205.82 L606.01,205.24 L605.80,204.65 L605.59,204.05 L605.37,203.46 L605.14,202.88 L604.92,202.33 L604.68,201.81 L604.44,201.34 L604.20,200.92 L603.68,200.22 L603.21,199.84 L602.55,199.41 L601.50,198.56 L601.06,198.18 L600.57,197.75 L600.03,197.27 L599.45,196.76 L598.84,196.22 L598.20,195.65 L597.54,195.07 L596.87,194.48 L596.19,193.88 L595.52,193.29 L594.86,192.70 L594.22,192.13 L593.60,191.57 L593.04,191.07 L592.48,190.57 L591.91,190.07 L591.35,189.57 L590.78,189.07 L590.22,188.57 L589.66,188.06 L589.10,187.56 L588.54,187.06 L587.98,186.55 L587.43,186.05 L586.88,185.54 L586.34,185.03 L585.80,184.52 L585.26,184.01 L584.72,183.49 L584.18,182.98 L583.63,182.46 L583.09,181.94 L582.56,181.42 L582.02,180.90 L581.50,180.38 L580.98,179.86 L580.48,179.34 L579.99,178.82 L579.51,178.30 L579.05,177.79 L578.60,177.28 L578.17,176.77 L577.76,176.26 L577.35,175.75 L576.96,175.25 L576.58,174.75 L576.21,174.25 L575.86,173.75 L575.51,173.25 L575.17,172.75 L574.84,172.25 L574.52,171.74 L574.21,171.24 L573.90,170.73 L573.60,170.22 L573.30,169.71 L572.99,169.20 L572.69,168.68 L572.38,168.16 L572.08,167.64 L571.79,167.12 L571.52,166.60 L571.26,166.08 L571.03,165.56 L570.81,165.04 L570.63,164.52 L570.48,164.00 L570.37,163.49 L570.30,162.98 L570.27,162.47 L570.28,161.96 L570.33,161.46 L570.41,160.95 L570.53,160.45 L570.66,159.95 L570.82,159.45 L570.99,158.95 L571.18,158.45 L571.38,157.95 L571.59,157.44 L571.79,156.94 L572.00,156.43 L572.20,155.92 L572.40,155.41 L572.61,154.90 L572.82,154.38 L573.04,153.86 L573.27,153.34 L573.51,152.82 L573.76,152.30 L574.02,151.78 L574.29,151.26 L574.57,150.74 L574.86,150.23 L575.16,149.71 L575.47,149.19 L575.80,148.68 L576.14,148.17 L576.50,147.66 L576.88,147.15 L577.28,146.64 L577.68,146.13 L578.10,145.62 L578.52,145.12 L578.95,144.61 L579.38,144.10 L579.81,143.60 L580.24,143.09 L580.67,142.58 L581.09,142.07 L581.50,141.56 L581.91,141.05 L582.31,140.54 L582.71,140.03 L583.11,139.51 L583.50,139.00 L583.90,138.49 L584.30,137.97 L584.70,137.46 L585.11,136.95 L585.51,136.43 L585.93,135.92 L586.34,135.41 L586.77,134.89 L587.20,134.38 L587.64,133.87 L588.09,133.35 L588.55,132.84 L589.02,132.33 L589.50,131.81 L589.97,131.30 L590.45,130.78 L590.93,130.27 L591.40,129.76 L591.88,129.25 L592.35,128.73 L592.81,128.22 L593.26,127.71 L593.70,127.20 L594.13,126.69 L594.55,126.18 L594.96,125.67 L595.37,125.16 L595.77,124.65 L596.16,124.15 L596.56,123.64 L596.95,123.13 L597.35,122.62 L597.74,122.12 L598.15,121.61 L598.56,121.10 L598.97,120.59 L599.40,120.08 L599.84,119.57 L600.30,119.05 L600.78,118.52 L601.26,117.99 L601.75,117.46 L602.24,116.93 L602.73,116.40 L603.22,115.88 L603.69,115.36 L604.16,114.85 L604.60,114.34 L605.03,113.85 L605.43,113.37 L605.80,112.90 L606.24,112.32 L606.66,111.77 L607.05,111.23 L607.42,110.71 L607.77,110.20 L608.10,109.69 L608.40,109.19 L608.68,108.70 L608.94,108.20 L609.18,107.69 L609.40,107.18 L609.59,106.68 L609.75,106.21 L609.88,105.75 L609.98,105.30 L610.06,104.85 L610.13,104.39 L610.19,103.90 L610.24,103.38 L610.29,102.82 L610.34,102.20 L610.40,101.52 L610.43,101.12 L610.47,100.70 L610.50,100.27 L610.52,99.82 L610.55,99.36 L610.58,98.88 L610.60,98.39 L610.62,97.89 L610.64,97.39 L610.66,96.87 L610.68,96.35 L610.70,95.82 L610.71,95.28 L610.73,94.74 L610.74,94.20 L610.76,93.66 L610.77,93.11 L610.78,92.57 L610.79,92.02 L610.80,91.48 L610.81,91.00 L610.81,90.50 L610.82,89.97 L610.82,89.43 L610.83,88.87 L610.83,88.30 L610.83,87.72 L610.83,87.14 L610.83,86.55 L610.83,85.97 L610.83,85.39 L610.82,84.82 L610.82,84.26 L610.82,83.72 L610.82,83.19 L610.81,82.68 L610.81,82.20 L610.81,81.74 L610.80,81.32 L610.80,80.92 L610.80,80.57 L610.80,80.25 L610.80,79.98 Z" fill="#ECDB45" fill-opacity="0.5"/>
<rect x="433.5" y="28.0" width="244.2" height="291.09999999999997" fill="none" stroke="#2B2B2B" stroke-width="2.8"/>
<line x1="428.20000000000005" x2="432.1" y1="52.40" y2="52.40" stroke="#333" stroke-width="1.5"/>
<text x="425.30" y="56.30" font-family="Liberation Sans" font-size="11" fill="#1A1A1A" text-anchor="end" >2</text>
<line x1="428.20000000000005" x2="432.1" y1="115.95" y2="115.95" stroke="#333" stroke-width="1.5"/>
<text x="425.30" y="119.85" font-family="Liberation Sans" font-size="11" fill="#1A1A1A" text-anchor="end" >1</text>
<line x1="428.20000000000005" x2="432.1" y1="179.50" y2="179.50" stroke="#333" stroke-width="1.5"/>
<text x="425.30" y="183.40" font-family="Liberation Sans" font-size="11" fill="#1A1A1A" text-anchor="end" >0</text>
<line x1="428.20000000000005" x2="432.1" y1="243.05" y2="243.05" stroke="#333" stroke-width="1.5"/>
<text x="425.30" y="246.95" font-family="Liberation Sans" font-size="11" fill="#1A1A1A" text-anchor="end" >-1</text>
<line x1="428.20000000000005" x2="432.1" y1="306.60" y2="306.60" stroke="#333" stroke-width="1.5"/>
<text x="425.30" y="310.50" font-family="Liberation Sans" font-size="11" fill="#1A1A1A" text-anchor="end" >-2</text>
<rect x="434.8" y="406.7" width="241.40000000000003" height="288.40000000000003" fill="#F3F5F5"/>
<line x1="432" x2="679" y1="429.40" y2="429.40" stroke="#C6CACD" stroke-width="1.2" stroke-dasharray="5 5"/>
<line x1="432" x2="679" y1="493.05" y2="493.05" stroke="#C6CACD" stroke-width="1.2" stroke-dasharray="5 5"/>
<line x1="432" x2="679" y1="556.70" y2="556.70" stroke="#C6CACD" stroke-width="1.2" stroke-dasharray="5 5"/>
<line x1="432" x2="679" y1="620.35" y2="620.35" stroke="#C6CACD" stroke-width="1.2" stroke-dasharray="5 5"/>
<line x1="432" x2="679" y1="684.00" y2="684.00" stroke="#C6CACD" stroke-width="1.2" stroke-dasharray="5 5"/>
<line x1="499.20" x2="499.20" y1="697.9" y2="403.9" stroke="#C6CACD" stroke-width="1.2" stroke-dasharray="5 5"/>
<line x1="611.50" x2="611.50" y1="697.9" y2="403.9" stroke="#C6CACD" stroke-width="1.2" stroke-dasharray="5 5"/>
<circle cx="519.80" cy="429.50" r="3.5" fill="#A8E55A"/>
<circle cx="490.00" cy="449.80" r="3.5" fill="#A8E55A"/>
<circle cx="512.40" cy="454.70" r="3.5" fill="#A8E55A"/>
<circle cx="478.30" cy="464.60" r="3.5" fill="#A8E55A"/>
<circle cx="519.50" cy="467.10" r="3.5" fill="#A8E55A"/>
<circle cx="478.30" cy="473.70" r="3.5" fill="#A8E55A"/>
<circle cx="488.70" cy="473.10" r="3.5" fill="#A8E55A"/>
<circle cx="504.30" cy="475.00" r="3.5" fill="#A8E55A"/>
<circle cx="519.10" cy="473.70" r="3.5" fill="#A8E55A"/>
<circle cx="517.00" cy="484.50" r="3.5" fill="#A8E55A"/>
<circle cx="486.20" cy="486.00" r="3.5" fill="#A8E55A"/>
<circle cx="480.30" cy="545.30" r="3.5" fill="#A8E55A"/>
<circle cx="488.70" cy="541.80" r="3.5" fill="#A8E55A"/>
<circle cx="500.40" cy="541.80" r="3.5" fill="#A8E55A"/>
<circle cx="514.50" cy="540.90" r="3.5" fill="#A8E55A"/>
<circle cx="512.70" cy="547.40" r="3.5" fill="#A8E55A"/>
<circle cx="489.00" cy="553.10" r="3.5" fill="#A8E55A"/>
<circle cx="493.40" cy="551.90" r="3.5" fill="#A8E55A"/>
<circle cx="489.60" cy="558.00" r="3.5" fill="#A8E55A"/>
<circle cx="502.70" cy="557.00" r="3.5" fill="#A8E55A"/>
<circle cx="521.50" cy="570.70" r="3.5" fill="#A8E55A"/>
<circle cx="488.20" cy="578.20" r="3.5" fill="#A8E55A"/>
<circle cx="500.10" cy="579.40" r="3.5" fill="#A8E55A"/>
<circle cx="499.90" cy="585.50" r="3.5" fill="#A8E55A"/>
<circle cx="488.84" cy="529.65" r="3.5" fill="#A8E55A"/>
<circle cx="507.17" cy="519.91" r="3.5" fill="#A8E55A"/>
<circle cx="507.12" cy="517.75" r="3.5" fill="#A8E55A"/>
<circle cx="514.22" cy="517.49" r="3.5" fill="#A8E55A"/>
<circle cx="485.69" cy="517.05" r="3.5" fill="#A8E55A"/>
<circle cx="487.61" cy="514.50" r="3.5" fill="#A8E55A"/>
<circle cx="484.03" cy="513.55" r="3.5" fill="#A8E55A"/>
<circle cx="487.38" cy="511.95" r="3.5" fill="#A8E55A"/>
<circle cx="509.26" cy="511.95" r="3.5" fill="#A8E55A"/>
<circle cx="483.30" cy="508.20" r="3.5" fill="#A8E55A"/>
<circle cx="500.55" cy="504.38" r="3.5" fill="#A8E55A"/>
<circle cx="486.90" cy="504.38" r="3.5" fill="#A8E55A"/>
<circle cx="490.37" cy="504.13" r="3.5" fill="#A8E55A"/>
<circle cx="496.26" cy="501.64" r="3.5" fill="#A8E55A"/>
<circle cx="513.72" cy="499.61" r="3.5" fill="#A8E55A"/>
<circle cx="503.86" cy="497.82" r="3.5" fill="#A8E55A"/>
<circle cx="478.32" cy="497.82" r="3.5" fill="#A8E55A"/>
<circle cx="489.56" cy="497.70" r="3.5" fill="#A8E55A"/>
<circle cx="484.01" cy="496.55" r="3.5" fill="#A8E55A"/>
<circle cx="515.17" cy="495.34" r="3.5" fill="#A8E55A"/>
<circle cx="512.52" cy="494.32" r="3.5" fill="#A8E55A"/>
<circle cx="512.36" cy="494.07" r="3.5" fill="#A8E55A"/>
<circle cx="513.23" cy="493.69" r="3.5" fill="#A8E55A"/>
<circle cx="509.72" cy="492.41" r="3.5" fill="#A8E55A"/>
<circle cx="518.52" cy="487.39" r="3.5" fill="#A8E55A"/>
<circle cx="511.83" cy="472.62" r="3.5" fill="#A8E55A"/>
<line x1="499.20" x2="499.20" y1="429.40" y2="488.28" stroke="#000" stroke-width="1.6"/>
<line x1="499.20" x2="499.20" y1="537.29" y2="585.22" stroke="#000" stroke-width="1.6"/>
<rect x="456.70" y="488.28" width="85.00" height="49.01" fill="#A8E55A" fill-opacity="0.75" stroke="#000" stroke-width="1.6"/>
<line x1="456.70" x2="541.70" y1="503.87" y2="503.87" stroke="#000" stroke-width="3"/>
<path d="M500.10,429.40 L500.20,429.69 L500.32,430.03 L500.46,430.42 L500.62,430.86 L500.78,431.33 L500.96,431.84 L501.15,432.38 L501.35,432.94 L501.56,433.53 L501.77,434.12 L501.98,434.73 L502.20,435.34 L502.42,435.95 L502.63,436.55 L502.84,437.14 L503.05,437.72 L503.25,438.28 L503.45,438.81 L503.63,439.31 L503.80,439.77 L504.03,440.40 L504.25,440.99 L504.46,441.57 L504.66,442.12 L504.86,442.66 L505.06,443.18 L505.25,443.69 L505.44,444.20 L505.64,444.70 L505.84,445.19 L506.04,445.69 L506.25,446.19 L506.47,446.70 L506.70,447.22 L506.94,447.75 L507.19,448.27 L507.44,448.79 L507.70,449.31 L507.96,449.82 L508.23,450.34 L508.50,450.85 L508.77,451.37 L509.05,451.89 L509.32,452.40 L509.59,452.92 L509.86,453.44 L510.13,453.96 L510.40,454.48 L510.66,455.00 L510.92,455.53 L511.18,456.05 L511.44,456.58 L511.69,457.10 L511.95,457.63 L512.21,458.16 L512.47,458.69 L512.73,459.21 L512.99,459.74 L513.26,460.27 L513.53,460.80 L513.81,461.33 L514.10,461.86 L514.39,462.39 L514.69,462.92 L514.99,463.45 L515.30,463.99 L515.62,464.52 L515.93,465.05 L516.25,465.59 L516.57,466.12 L516.89,466.65 L517.22,467.18 L517.54,467.72 L517.86,468.25 L518.18,468.78 L518.50,469.31 L518.82,469.84 L519.15,470.37 L519.47,470.90 L519.80,471.42 L520.14,471.95 L520.47,472.48 L520.80,473.01 L521.13,473.54 L521.46,474.06 L521.78,474.59 L522.09,475.12 L522.40,475.64 L522.71,476.17 L523.00,476.69 L523.28,477.22 L523.56,477.74 L523.83,478.26 L524.09,478.79 L524.35,479.31 L524.60,479.83 L524.85,480.35 L525.10,480.87 L525.34,481.40 L525.59,481.92 L525.84,482.44 L526.09,482.96 L526.34,483.49 L526.60,484.01 L526.86,484.54 L527.13,485.06 L527.40,485.59 L527.68,486.12 L527.96,486.64 L528.23,487.17 L528.51,487.70 L528.78,488.23 L529.05,488.76 L529.31,489.28 L529.57,489.81 L529.82,490.34 L530.07,490.87 L530.30,491.40 L530.53,491.93 L530.76,492.48 L530.99,493.03 L531.21,493.59 L531.44,494.15 L531.65,494.71 L531.86,495.27 L532.06,495.82 L532.25,496.36 L532.43,496.88 L532.60,497.39 L532.75,497.88 L532.88,498.34 L533.00,498.78 L533.18,499.46 L533.34,500.03 L533.46,500.54 L533.55,501.01 L533.59,501.48 L533.56,501.98 L533.47,502.56 L533.30,503.23 L533.16,503.67 L532.99,504.14 L532.80,504.62 L532.58,505.13 L532.34,505.65 L532.07,506.19 L531.79,506.74 L531.50,507.30 L531.20,507.86 L530.88,508.42 L530.56,508.98 L530.24,509.54 L529.92,510.08 L529.60,510.62 L529.27,511.14 L528.92,511.67 L528.56,512.20 L528.18,512.73 L527.79,513.25 L527.40,513.78 L527.00,514.31 L526.60,514.84 L526.21,515.36 L525.82,515.89 L525.44,516.42 L525.08,516.95 L524.73,517.47 L524.40,518.00 L524.09,518.53 L523.79,519.06 L523.51,519.58 L523.23,520.11 L522.96,520.64 L522.70,521.17 L522.45,521.70 L522.20,522.22 L521.95,522.75 L521.71,523.28 L521.46,523.81 L521.21,524.33 L520.96,524.86 L520.70,525.38 L520.44,525.91 L520.16,526.43 L519.89,526.96 L519.61,527.48 L519.33,528.00 L519.06,528.52 L518.78,529.04 L518.51,529.57 L518.25,530.09 L517.99,530.61 L517.75,531.13 L517.52,531.66 L517.30,532.18 L517.10,532.70 L516.91,533.23 L516.74,533.76 L516.58,534.28 L516.43,534.81 L516.29,535.34 L516.16,535.86 L516.03,536.39 L515.91,536.92 L515.80,537.45 L515.70,537.98 L515.59,538.50 L515.49,539.03 L515.40,539.56 L515.30,540.09 L515.21,540.61 L515.13,541.14 L515.05,541.67 L514.98,542.20 L514.92,542.72 L514.86,543.25 L514.80,543.78 L514.75,544.30 L514.69,544.83 L514.64,545.36 L514.58,545.88 L514.53,546.41 L514.47,546.94 L514.40,547.47 L514.33,548.00 L514.27,548.53 L514.20,549.06 L514.14,549.60 L514.07,550.13 L514.00,550.66 L513.94,551.20 L513.87,551.73 L513.80,552.26 L513.73,552.80 L513.65,553.33 L513.57,553.86 L513.49,554.39 L513.40,554.92 L513.31,555.44 L513.22,555.97 L513.12,556.49 L513.03,557.02 L512.93,557.54 L512.83,558.06 L512.73,558.58 L512.62,559.10 L512.51,559.62 L512.39,560.15 L512.28,560.67 L512.16,561.19 L512.03,561.71 L511.90,562.24 L511.76,562.76 L511.62,563.29 L511.47,563.82 L511.32,564.34 L511.17,564.87 L511.01,565.40 L510.84,565.93 L510.68,566.45 L510.51,566.98 L510.35,567.51 L510.18,568.04 L510.02,568.57 L509.86,569.09 L509.70,569.62 L509.54,570.15 L509.38,570.68 L509.22,571.20 L509.06,571.73 L508.90,572.26 L508.74,572.79 L508.57,573.31 L508.41,573.84 L508.26,574.37 L508.10,574.89 L507.94,575.42 L507.79,575.95 L507.64,576.48 L507.50,577.00 L507.36,577.55 L507.21,578.12 L507.06,578.70 L506.91,579.30 L506.76,579.90 L506.62,580.51 L506.47,581.10 L506.34,581.67 L506.21,582.23 L506.09,582.75 L505.97,583.23 L505.87,583.67 L505.78,584.06 L505.70,584.39 L505.49,585.33 L505.50,585.34 L492.90,585.34 L492.91,585.33 L492.70,584.39 L492.62,584.06 L492.53,583.67 L492.43,583.23 L492.31,582.75 L492.19,582.23 L492.06,581.67 L491.93,581.10 L491.78,580.51 L491.64,579.90 L491.49,579.30 L491.34,578.70 L491.19,578.12 L491.04,577.55 L490.90,577.00 L490.76,576.48 L490.61,575.95 L490.46,575.42 L490.30,574.89 L490.14,574.37 L489.99,573.84 L489.82,573.31 L489.66,572.79 L489.50,572.26 L489.34,571.73 L489.18,571.20 L489.02,570.68 L488.86,570.15 L488.70,569.62 L488.54,569.09 L488.38,568.57 L488.22,568.04 L488.05,567.51 L487.89,566.98 L487.72,566.45 L487.56,565.93 L487.39,565.40 L487.23,564.87 L487.08,564.34 L486.93,563.82 L486.78,563.29 L486.64,562.76 L486.50,562.24 L486.37,561.71 L486.24,561.19 L486.12,560.67 L486.01,560.15 L485.89,559.62 L485.78,559.10 L485.68,558.58 L485.57,558.06 L485.47,557.54 L485.37,557.02 L485.28,556.49 L485.18,555.97 L485.09,555.44 L485.00,554.92 L484.91,554.39 L484.83,553.86 L484.75,553.33 L484.67,552.80 L484.60,552.26 L484.53,551.73 L484.46,551.20 L484.40,550.66 L484.33,550.13 L484.26,549.60 L484.20,549.06 L484.13,548.53 L484.07,548.00 L484.00,547.47 L483.93,546.94 L483.87,546.41 L483.82,545.88 L483.76,545.36 L483.71,544.83 L483.65,544.30 L483.60,543.78 L483.54,543.25 L483.48,542.72 L483.42,542.20 L483.35,541.67 L483.27,541.14 L483.19,540.61 L483.10,540.09 L483.00,539.56 L482.91,539.03 L482.81,538.50 L482.70,537.98 L482.60,537.45 L482.49,536.92 L482.37,536.39 L482.24,535.86 L482.11,535.34 L481.97,534.81 L481.82,534.28 L481.66,533.76 L481.49,533.23 L481.30,532.70 L481.10,532.18 L480.88,531.66 L480.65,531.13 L480.41,530.61 L480.15,530.09 L479.89,529.57 L479.62,529.04 L479.34,528.52 L479.07,528.00 L478.79,527.48 L478.51,526.96 L478.24,526.43 L477.96,525.91 L477.70,525.38 L477.44,524.86 L477.19,524.33 L476.94,523.81 L476.69,523.28 L476.45,522.75 L476.20,522.22 L475.95,521.70 L475.70,521.17 L475.44,520.64 L475.17,520.11 L474.89,519.58 L474.61,519.06 L474.31,518.53 L474.00,518.00 L473.67,517.47 L473.32,516.95 L472.96,516.42 L472.58,515.89 L472.19,515.36 L471.80,514.84 L471.40,514.31 L471.00,513.78 L470.61,513.25 L470.22,512.73 L469.84,512.20 L469.48,511.67 L469.13,511.14 L468.80,510.62 L468.48,510.08 L468.16,509.54 L467.84,508.98 L467.52,508.42 L467.20,507.86 L466.90,507.30 L466.61,506.74 L466.33,506.19 L466.06,505.65 L465.82,505.13 L465.60,504.62 L465.41,504.14 L465.24,503.67 L465.10,503.23 L464.93,502.56 L464.84,501.98 L464.81,501.48 L464.85,501.01 L464.94,500.54 L465.06,500.03 L465.22,499.46 L465.40,498.78 L465.52,498.34 L465.65,497.88 L465.80,497.39 L465.97,496.88 L466.15,496.36 L466.34,495.82 L466.54,495.27 L466.75,494.71 L466.96,494.15 L467.19,493.59 L467.41,493.03 L467.64,492.48 L467.87,491.93 L468.10,491.40 L468.33,490.87 L468.58,490.34 L468.83,489.81 L469.09,489.28 L469.35,488.76 L469.62,488.23 L469.89,487.70 L470.17,487.17 L470.44,486.64 L470.72,486.12 L471.00,485.59 L471.27,485.06 L471.54,484.54 L471.80,484.01 L472.06,483.49 L472.31,482.96 L472.56,482.44 L472.81,481.92 L473.06,481.40 L473.30,480.87 L473.55,480.35 L473.80,479.83 L474.05,479.31 L474.31,478.79 L474.57,478.26 L474.84,477.74 L475.12,477.22 L475.40,476.69 L475.69,476.17 L476.00,475.64 L476.31,475.12 L476.62,474.59 L476.94,474.06 L477.27,473.54 L477.60,473.01 L477.93,472.48 L478.26,471.95 L478.60,471.42 L478.93,470.90 L479.25,470.37 L479.58,469.84 L479.90,469.31 L480.22,468.78 L480.54,468.25 L480.86,467.72 L481.18,467.18 L481.51,466.65 L481.83,466.12 L482.15,465.59 L482.47,465.05 L482.78,464.52 L483.10,463.99 L483.41,463.45 L483.71,462.92 L484.01,462.39 L484.30,461.86 L484.59,461.33 L484.87,460.80 L485.14,460.27 L485.41,459.74 L485.67,459.21 L485.93,458.69 L486.19,458.16 L486.45,457.63 L486.71,457.10 L486.96,456.58 L487.22,456.05 L487.48,455.53 L487.74,455.00 L488.00,454.48 L488.27,453.96 L488.54,453.44 L488.81,452.92 L489.08,452.40 L489.35,451.89 L489.63,451.37 L489.90,450.85 L490.17,450.34 L490.44,449.82 L490.70,449.31 L490.96,448.79 L491.21,448.27 L491.46,447.75 L491.70,447.22 L491.93,446.70 L492.15,446.19 L492.36,445.69 L492.56,445.19 L492.76,444.70 L492.96,444.20 L493.15,443.69 L493.34,443.18 L493.54,442.66 L493.74,442.12 L493.94,441.57 L494.15,440.99 L494.37,440.40 L494.60,439.77 L494.77,439.31 L494.95,438.81 L495.15,438.28 L495.35,437.72 L495.56,437.14 L495.77,436.55 L495.98,435.95 L496.20,435.34 L496.42,434.73 L496.63,434.12 L496.84,433.53 L497.05,432.94 L497.25,432.38 L497.44,431.84 L497.62,431.33 L497.78,430.86 L497.94,430.42 L498.08,430.03 L498.20,429.69 L498.30,429.40 Z" fill="#A8E55A" fill-opacity="0.5"/>
<circle cx="629.70" cy="507.50" r="3.5" fill="#ECDB45"/>
<circle cx="626.90" cy="509.40" r="3.5" fill="#ECDB45"/>
<circle cx="616.40" cy="514.20" r="3.5" fill="#ECDB45"/>
<circle cx="593.30" cy="518.30" r="3.5" fill="#ECDB45"/>
<circle cx="596.50" cy="525.20" r="3.5" fill="#ECDB45"/>
<circle cx="599.70" cy="523.70" r="3.5" fill="#ECDB45"/>
<circle cx="588.90" cy="526.50" r="3.5" fill="#ECDB45"/>
<circle cx="626.90" cy="528.40" r="3.5" fill="#ECDB45"/>
<circle cx="590.80" cy="553.10" r="3.5" fill="#ECDB45"/>
<circle cx="610.70" cy="552.10" r="3.5" fill="#ECDB45"/>
<circle cx="630.70" cy="553.60" r="3.5" fill="#ECDB45"/>
<circle cx="620.20" cy="563.50" r="3.5" fill="#ECDB45"/>
<circle cx="631.60" cy="563.50" r="3.5" fill="#ECDB45"/>
<circle cx="596.50" cy="570.70" r="3.5" fill="#ECDB45"/>
<circle cx="617.80" cy="575.80" r="3.5" fill="#ECDB45"/>
<circle cx="632.60" cy="574.90" r="3.5" fill="#ECDB45"/>
<circle cx="601.60" cy="584.80" r="3.5" fill="#ECDB45"/>
<circle cx="612.60" cy="583.40" r="3.5" fill="#ECDB45"/>
<circle cx="596.80" cy="603.10" r="3.5" fill="#ECDB45"/>
<circle cx="596.30" cy="635.20" r="3.5" fill="#ECDB45"/>
<circle cx="615.50" cy="651.50" r="3.5" fill="#ECDB45"/>
<circle cx="619.60" cy="665.50" r="3.5" fill="#ECDB45"/>
<circle cx="631.50" cy="674.30" r="3.5" fill="#ECDB45"/>
<circle cx="627.80" cy="684.10" r="3.5" fill="#ECDB45"/>
<circle cx="594.59" cy="556.38" r="3.5" fill="#ECDB45"/>
<circle cx="620.21" cy="552.56" r="3.5" fill="#ECDB45"/>
<circle cx="618.04" cy="551.74" r="3.5" fill="#ECDB45"/>
<circle cx="630.44" cy="548.74" r="3.5" fill="#ECDB45"/>
<circle cx="601.66" cy="546.52" r="3.5" fill="#ECDB45"/>
<circle cx="601.00" cy="545.88" r="3.5" fill="#ECDB45"/>
<circle cx="621.56" cy="545.24" r="3.5" fill="#ECDB45"/>
<circle cx="618.31" cy="544.61" r="3.5" fill="#ECDB45"/>
<circle cx="603.03" cy="544.29" r="3.5" fill="#ECDB45"/>
<circle cx="619.42" cy="544.10" r="3.5" fill="#ECDB45"/>
<circle cx="607.06" cy="543.97" r="3.5" fill="#ECDB45"/>
<circle cx="623.43" cy="543.14" r="3.5" fill="#ECDB45"/>
<circle cx="595.09" cy="541.23" r="3.5" fill="#ECDB45"/>
<circle cx="599.60" cy="541.23" r="3.5" fill="#ECDB45"/>
<circle cx="628.76" cy="540.28" r="3.5" fill="#ECDB45"/>
<circle cx="605.40" cy="538.31" r="3.5" fill="#ECDB45"/>
<circle cx="601.20" cy="536.33" r="3.5" fill="#ECDB45"/>
<circle cx="624.58" cy="534.17" r="3.5" fill="#ECDB45"/>
<circle cx="617.16" cy="533.66" r="3.5" fill="#ECDB45"/>
<circle cx="596.44" cy="532.19" r="3.5" fill="#ECDB45"/>
<circle cx="613.71" cy="530.79" r="3.5" fill="#ECDB45"/>
<circle cx="618.55" cy="530.60" r="3.5" fill="#ECDB45"/>
<circle cx="597.09" cy="528.82" r="3.5" fill="#ECDB45"/>
<circle cx="618.02" cy="516.60" r="3.5" fill="#ECDB45"/>
<line x1="611.50" x2="611.50" y1="508.07" y2="531.24" stroke="#000" stroke-width="1.6"/>
<line x1="611.50" x2="611.50" y1="563.07" y2="602.78" stroke="#000" stroke-width="1.6"/>
<rect x="569.00" y="531.24" width="85.00" height="31.83" fill="#ECDB45" fill-opacity="0.75" stroke="#000" stroke-width="1.6"/>
<line x1="569.00" x2="654.00" y1="544.61" y2="544.61" stroke="#000" stroke-width="3"/>
<path d="M623.10,507.63 L623.74,507.94 L624.55,508.34 L625.51,508.80 L626.59,509.33 L627.76,509.89 L628.98,510.50 L630.24,511.12 L631.50,511.76 L632.73,512.39 L633.91,513.01 L635.00,513.61 L635.88,514.11 L636.77,514.61 L637.65,515.12 L638.53,515.64 L639.41,516.17 L640.28,516.70 L641.14,517.23 L641.99,517.76 L642.83,518.30 L643.65,518.83 L644.45,519.36 L645.24,519.89 L646.00,520.42 L646.75,520.94 L647.48,521.47 L648.20,521.99 L648.91,522.52 L649.61,523.04 L650.29,523.57 L650.95,524.09 L651.59,524.62 L652.22,525.14 L652.82,525.66 L653.40,526.19 L653.96,526.71 L654.50,527.23 L655.01,527.75 L655.50,528.27 L655.97,528.79 L656.42,529.31 L656.85,529.83 L657.26,530.34 L657.65,530.86 L658.02,531.38 L658.37,531.90 L658.70,532.42 L659.02,532.94 L659.32,533.46 L659.60,533.98 L659.87,534.50 L660.12,535.02 L660.36,535.54 L660.58,536.07 L660.78,536.59 L660.96,537.12 L661.12,537.64 L661.26,538.17 L661.38,538.69 L661.48,539.21 L661.54,539.74 L661.59,540.26 L661.60,540.79 L661.59,541.31 L661.58,541.84 L661.54,542.36 L661.49,542.88 L661.42,543.41 L661.32,543.93 L661.19,544.45 L661.02,544.98 L660.83,545.50 L660.59,546.03 L660.31,546.55 L659.98,547.07 L659.60,547.60 L659.16,548.12 L658.67,548.65 L658.12,549.17 L657.52,549.70 L656.88,550.22 L656.21,550.75 L655.51,551.27 L654.79,551.79 L654.05,552.32 L653.31,552.84 L652.57,553.36 L651.83,553.89 L651.10,554.41 L650.36,554.93 L649.60,555.45 L648.81,555.97 L648.00,556.49 L647.18,557.00 L646.36,557.52 L645.53,558.04 L644.71,558.55 L643.90,559.07 L643.11,559.59 L642.34,560.11 L641.60,560.63 L640.90,561.16 L640.23,561.68 L639.58,562.19 L638.95,562.70 L638.34,563.21 L637.75,563.72 L637.17,564.23 L636.61,564.74 L636.05,565.26 L635.49,565.79 L634.95,566.33 L634.40,566.88 L633.85,567.45 L633.30,568.03 L632.85,568.51 L632.40,569.01 L631.95,569.52 L631.50,570.03 L631.06,570.56 L630.62,571.08 L630.18,571.62 L629.74,572.16 L629.31,572.70 L628.89,573.25 L628.47,573.79 L628.06,574.34 L627.66,574.88 L627.26,575.42 L626.88,575.96 L626.50,576.50 L626.15,577.00 L625.82,577.50 L625.48,578.00 L625.16,578.50 L624.84,579.00 L624.53,579.50 L624.22,580.00 L623.92,580.50 L623.63,581.00 L623.34,581.50 L623.05,582.01 L622.77,582.51 L622.49,583.01 L622.21,583.51 L621.94,584.02 L621.67,584.52 L621.40,585.02 L621.13,585.53 L620.87,586.03 L620.61,586.54 L620.35,587.05 L620.10,587.56 L619.85,588.07 L619.60,588.57 L619.36,589.08 L619.12,589.59 L618.89,590.10 L618.66,590.61 L618.43,591.11 L618.21,591.62 L618.00,592.12 L617.80,592.62 L617.59,593.12 L617.40,593.62 L617.20,594.14 L617.01,594.66 L616.82,595.18 L616.65,595.70 L616.47,596.21 L616.31,596.73 L616.15,597.24 L615.99,597.75 L615.84,598.26 L615.70,598.77 L615.56,599.29 L615.42,599.80 L615.29,600.32 L615.15,600.84 L615.03,601.36 L614.90,601.89 L614.78,602.39 L614.67,602.89 L614.57,603.40 L614.47,603.90 L614.37,604.41 L614.27,604.92 L614.18,605.44 L614.09,605.95 L614.01,606.46 L613.93,606.97 L613.84,607.49 L613.77,608.00 L613.69,608.51 L613.62,609.02 L613.54,609.53 L613.47,610.04 L613.40,610.55 L613.33,611.05 L613.25,611.56 L613.18,612.06 L613.10,612.57 L613.03,613.07 L612.95,613.58 L612.88,614.08 L612.81,614.58 L612.75,615.09 L612.69,615.59 L612.64,616.09 L612.59,616.59 L612.55,617.09 L612.53,617.59 L612.51,618.09 L612.50,618.58 L612.50,619.08 L612.52,619.60 L612.55,620.12 L612.60,620.64 L612.65,621.15 L612.72,621.67 L612.80,622.18 L612.88,622.69 L612.97,623.21 L613.06,623.72 L613.16,624.23 L613.25,624.75 L613.35,625.26 L613.45,625.78 L613.54,626.30 L613.62,626.82 L613.70,627.35 L613.77,627.85 L613.84,628.35 L613.92,628.86 L613.99,629.36 L614.07,629.87 L614.14,630.38 L614.21,630.90 L614.29,631.41 L614.36,631.92 L614.43,632.43 L614.51,632.95 L614.58,633.46 L614.65,633.97 L614.71,634.48 L614.78,634.99 L614.84,635.50 L614.90,636.01 L614.96,636.51 L615.01,637.02 L615.06,637.52 L615.11,638.02 L615.16,638.53 L615.20,639.03 L615.24,639.53 L615.29,640.03 L615.33,640.53 L615.37,641.04 L615.41,641.54 L615.45,642.04 L615.50,642.54 L615.55,643.04 L615.59,643.54 L615.65,644.04 L615.70,644.54 L615.76,645.07 L615.83,645.60 L615.90,646.13 L615.97,646.66 L616.05,647.19 L616.13,647.72 L616.20,648.25 L616.28,648.78 L616.36,649.31 L616.43,649.84 L616.51,650.36 L616.57,650.89 L616.64,651.42 L616.70,651.95 L616.75,652.48 L616.80,653.00 L616.84,653.53 L616.88,654.05 L616.91,654.58 L616.94,655.10 L616.96,655.63 L616.98,656.15 L617.00,656.67 L617.02,657.20 L617.03,657.72 L617.04,658.24 L617.06,658.77 L617.06,659.29 L617.07,659.82 L617.08,660.35 L617.09,660.87 L617.10,661.40 L617.11,661.91 L617.12,662.41 L617.12,662.91 L617.13,663.42 L617.13,663.93 L617.13,664.44 L617.14,664.94 L617.14,665.45 L617.14,665.96 L617.14,666.47 L617.13,666.98 L617.13,667.49 L617.13,667.99 L617.12,668.50 L617.12,669.00 L617.11,669.50 L617.10,670.00 L617.09,670.53 L617.08,671.07 L617.07,671.61 L617.05,672.16 L617.04,672.71 L617.02,673.26 L617.00,673.81 L616.98,674.35 L616.96,674.89 L616.94,675.42 L616.92,675.93 L616.90,676.43 L616.87,676.92 L616.85,677.39 L616.82,677.84 L616.80,678.27 L616.76,678.93 L616.70,679.58 L616.65,680.19 L616.59,680.78 L616.53,681.33 L616.47,681.85 L616.42,682.31 L616.37,682.72 L616.33,683.07 L616.30,683.36 L606.70,683.36 L606.67,683.07 L606.63,682.72 L606.58,682.31 L606.53,681.85 L606.47,681.33 L606.41,680.78 L606.35,680.19 L606.30,679.58 L606.24,678.93 L606.20,678.27 L606.18,677.84 L606.15,677.39 L606.13,676.92 L606.10,676.43 L606.08,675.93 L606.06,675.42 L606.04,674.89 L606.02,674.35 L606.00,673.81 L605.98,673.26 L605.96,672.71 L605.95,672.16 L605.93,671.61 L605.92,671.07 L605.91,670.53 L605.90,670.00 L605.89,669.50 L605.88,669.00 L605.88,668.50 L605.87,667.99 L605.87,667.49 L605.87,666.98 L605.86,666.47 L605.86,665.96 L605.86,665.45 L605.86,664.94 L605.87,664.44 L605.87,663.93 L605.87,663.42 L605.88,662.91 L605.88,662.41 L605.89,661.91 L605.90,661.40 L605.91,660.87 L605.92,660.35 L605.93,659.82 L605.94,659.29 L605.94,658.77 L605.96,658.24 L605.97,657.72 L605.98,657.20 L606.00,656.67 L606.02,656.15 L606.04,655.63 L606.06,655.10 L606.09,654.58 L606.12,654.05 L606.16,653.53 L606.20,653.00 L606.25,652.48 L606.30,651.95 L606.36,651.42 L606.43,650.89 L606.49,650.36 L606.57,649.84 L606.64,649.31 L606.72,648.78 L606.80,648.25 L606.87,647.72 L606.95,647.19 L607.03,646.66 L607.10,646.13 L607.17,645.60 L607.24,645.07 L607.30,644.54 L607.35,644.04 L607.41,643.54 L607.45,643.04 L607.50,642.54 L607.55,642.04 L607.59,641.54 L607.63,641.04 L607.67,640.53 L607.71,640.03 L607.76,639.53 L607.80,639.03 L607.84,638.53 L607.89,638.02 L607.94,637.52 L607.99,637.02 L608.04,636.51 L608.10,636.01 L608.16,635.50 L608.22,634.99 L608.29,634.48 L608.35,633.97 L608.42,633.46 L608.49,632.95 L608.57,632.43 L608.64,631.92 L608.71,631.41 L608.79,630.90 L608.86,630.38 L608.93,629.87 L609.01,629.36 L609.08,628.86 L609.16,628.35 L609.23,627.85 L609.30,627.35 L609.38,626.82 L609.46,626.30 L609.55,625.78 L609.65,625.26 L609.75,624.75 L609.84,624.23 L609.94,623.72 L610.03,623.21 L610.12,622.69 L610.20,622.18 L610.28,621.67 L610.35,621.15 L610.40,620.64 L610.45,620.12 L610.48,619.60 L610.50,619.08 L610.50,618.58 L610.49,618.09 L610.47,617.59 L610.45,617.09 L610.41,616.59 L610.36,616.09 L610.31,615.59 L610.25,615.09 L610.19,614.58 L610.12,614.08 L610.05,613.58 L609.97,613.07 L609.90,612.57 L609.82,612.06 L609.75,611.56 L609.67,611.05 L609.60,610.55 L609.53,610.04 L609.46,609.53 L609.38,609.02 L609.31,608.51 L609.23,608.00 L609.16,607.49 L609.07,606.97 L608.99,606.46 L608.91,605.95 L608.82,605.44 L608.73,604.92 L608.63,604.41 L608.53,603.90 L608.43,603.40 L608.33,602.89 L608.22,602.39 L608.10,601.89 L607.97,601.36 L607.85,600.84 L607.71,600.32 L607.58,599.80 L607.44,599.29 L607.30,598.77 L607.16,598.26 L607.01,597.75 L606.85,597.24 L606.69,596.73 L606.53,596.21 L606.35,595.70 L606.18,595.18 L605.99,594.66 L605.80,594.14 L605.60,593.62 L605.41,593.12 L605.20,592.62 L605.00,592.12 L604.79,591.62 L604.57,591.11 L604.34,590.61 L604.11,590.10 L603.88,589.59 L603.64,589.08 L603.40,588.57 L603.15,588.07 L602.90,587.56 L602.65,587.05 L602.39,586.54 L602.13,586.03 L601.87,585.53 L601.60,585.02 L601.33,584.52 L601.06,584.02 L600.79,583.51 L600.51,583.01 L600.23,582.51 L599.95,582.01 L599.66,581.50 L599.37,581.00 L599.08,580.50 L598.78,580.00 L598.47,579.50 L598.16,579.00 L597.84,578.50 L597.52,578.00 L597.18,577.50 L596.85,577.00 L596.50,576.50 L596.12,575.96 L595.74,575.42 L595.34,574.88 L594.94,574.34 L594.53,573.79 L594.11,573.25 L593.69,572.70 L593.26,572.16 L592.82,571.62 L592.38,571.08 L591.94,570.56 L591.50,570.03 L591.05,569.52 L590.60,569.01 L590.15,568.51 L589.70,568.03 L589.15,567.45 L588.60,566.88 L588.05,566.33 L587.51,565.79 L586.95,565.26 L586.39,564.74 L585.83,564.23 L585.25,563.72 L584.66,563.21 L584.05,562.70 L583.42,562.19 L582.77,561.68 L582.10,561.16 L581.40,560.63 L580.66,560.11 L579.89,559.59 L579.10,559.07 L578.29,558.55 L577.47,558.04 L576.64,557.52 L575.82,557.00 L575.00,556.49 L574.19,555.97 L573.40,555.45 L572.64,554.93 L571.90,554.41 L571.17,553.89 L570.43,553.36 L569.69,552.84 L568.95,552.32 L568.21,551.79 L567.49,551.27 L566.79,550.75 L566.12,550.22 L565.48,549.70 L564.88,549.17 L564.33,548.65 L563.84,548.12 L563.40,547.60 L563.02,547.07 L562.69,546.55 L562.41,546.03 L562.17,545.50 L561.98,544.98 L561.81,544.45 L561.68,543.93 L561.58,543.41 L561.51,542.88 L561.46,542.36 L561.42,541.84 L561.41,541.31 L561.40,540.79 L561.41,540.26 L561.46,539.74 L561.52,539.21 L561.62,538.69 L561.74,538.17 L561.88,537.64 L562.04,537.12 L562.22,536.59 L562.42,536.07 L562.64,535.54 L562.88,535.02 L563.13,534.50 L563.40,533.98 L563.68,533.46 L563.98,532.94 L564.30,532.42 L564.63,531.90 L564.98,531.38 L565.35,530.86 L565.74,530.34 L566.15,529.83 L566.58,529.31 L567.03,528.79 L567.50,528.27 L567.99,527.75 L568.50,527.23 L569.04,526.71 L569.60,526.19 L570.18,525.66 L570.78,525.14 L571.41,524.62 L572.05,524.09 L572.71,523.57 L573.39,523.04 L574.09,522.52 L574.80,521.99 L575.52,521.47 L576.25,520.94 L577.00,520.42 L577.76,519.89 L578.55,519.36 L579.35,518.83 L580.17,518.30 L581.01,517.76 L581.86,517.23 L582.72,516.70 L583.59,516.17 L584.47,515.64 L585.35,515.12 L586.23,514.61 L587.12,514.11 L588.00,513.61 L589.09,513.01 L590.27,512.39 L591.50,511.76 L592.76,511.12 L594.02,510.50 L595.24,509.89 L596.41,509.33 L597.49,508.80 L598.45,508.34 L599.26,507.94 L599.90,507.63 Z" fill="#ECDB45" fill-opacity="0.5"/>
<rect x="433.4" y="405.29999999999995" width="244.2" height="291.2" fill="none" stroke="#2B2B2B" stroke-width="2.8"/>
<line x1="428.1" x2="432" y1="429.40" y2="429.40" stroke="#333" stroke-width="1.5"/>
<text x="425.20" y="433.30" font-family="Liberation Sans" font-size="11" fill="#1A1A1A" text-anchor="end" >2</text>
<line x1="428.1" x2="432" y1="493.05" y2="493.05" stroke="#333" stroke-width="1.5"/>
<text x="425.20" y="496.95" font-family="Liberation Sans" font-size="11" fill="#1A1A1A" text-anchor="end" >1</text>
<line x1="428.1" x2="432" y1="556.70" y2="556.70" stroke="#333" stroke-width="1.5"/>
<text x="425.20" y="560.60" font-family="Liberation Sans" font-size="11" fill="#1A1A1A" text-anchor="end" >0</text>
<line x1="428.1" x2="432" y1="620.35" y2="620.35" stroke="#333" stroke-width="1.5"/>
<text x="425.20" y="624.25" font-family="Liberation Sans" font-size="11" fill="#1A1A1A" text-anchor="end" >-1</text>
<line x1="428.1" x2="432" y1="684.00" y2="684.00" stroke="#333" stroke-width="1.5"/>
<text x="425.20" y="687.90" font-family="Liberation Sans" font-size="11" fill="#1A1A1A" text-anchor="end" >-2</text>
<rect x="435.1" y="782.1999999999999" width="241.20000000000005" height="290.80000000000007" fill="#F3F5F5"/>
<line x1="432.3" x2="679.1" y1="805.50" y2="805.50" stroke="#C6CACD" stroke-width="1.2" stroke-dasharray="5 5"/>
<line x1="432.3" x2="679.1" y1="869.70" y2="869.70" stroke="#C6CACD" stroke-width="1.2" stroke-dasharray="5 5"/>
<line x1="432.3" x2="679.1" y1="933.90" y2="933.90" stroke="#C6CACD" stroke-width="1.2" stroke-dasharray="5 5"/>
<line x1="432.3" x2="679.1" y1="998.10" y2="998.10" stroke="#C6CACD" stroke-width="1.2" stroke-dasharray="5 5"/>
<line x1="432.3" x2="679.1" y1="1062.30" y2="1062.30" stroke="#C6CACD" stroke-width="1.2" stroke-dasharray="5 5"/>
<line x1="500.60" x2="500.60" y1="1075.8" y2="779.4" stroke="#C6CACD" stroke-width="1.2" stroke-dasharray="5 5"/>
<line x1="613.80" x2="613.80" y1="1075.8" y2="779.4" stroke="#C6CACD" stroke-width="1.2" stroke-dasharray="5 5"/>
<circle cx="482.40" cy="805.20" r="3.5" fill="#A8E55A"/>
<circle cx="490.60" cy="816.60" r="3.5" fill="#A8E55A"/>
<circle cx="505.20" cy="865.00" r="3.5" fill="#A8E55A"/>
<circle cx="482.80" cy="875.00" r="3.5" fill="#A8E55A"/>
<circle cx="482.40" cy="893.40" r="3.5" fill="#A8E55A"/>
<circle cx="490.00" cy="899.10" r="3.5" fill="#A8E55A"/>
<circle cx="494.40" cy="888.70" r="3.5" fill="#A8E55A"/>
<circle cx="521.40" cy="903.50" r="3.5" fill="#A8E55A"/>
<circle cx="513.40" cy="911.50" r="3.5" fill="#A8E55A"/>
<circle cx="518.50" cy="915.30" r="3.5" fill="#A8E55A"/>
<circle cx="480.50" cy="933.30" r="3.5" fill="#A8E55A"/>
<circle cx="487.20" cy="938.00" r="3.5" fill="#A8E55A"/>
<circle cx="520.61" cy="886.52" r="3.5" fill="#A8E55A"/>
<circle cx="479.60" cy="886.52" r="3.5" fill="#A8E55A"/>
<circle cx="510.75" cy="885.17" r="3.5" fill="#A8E55A"/>
<circle cx="485.89" cy="882.67" r="3.5" fill="#A8E55A"/>
<circle cx="521.51" cy="879.52" r="3.5" fill="#A8E55A"/>
<circle cx="479.83" cy="879.01" r="3.5" fill="#A8E55A"/>
<line x1="500.60" x2="500.60" y1="865.01" y2="878.82" stroke="#000" stroke-width="1.6"/>
<line x1="500.60" x2="500.60" y1="902.44" y2="932.68" stroke="#000" stroke-width="1.6"/>
<rect x="458.10" y="878.82" width="85.00" height="23.63" fill="#A8E55A" fill-opacity="0.75" stroke="#000" stroke-width="1.6"/>
<line x1="458.10" x2="543.10" y1="886.20" y2="886.20" stroke="#000" stroke-width="3"/>
<path d="M510.50,805.69 L510.44,806.01 L510.37,806.43 L510.28,806.92 L510.19,807.46 L510.08,808.06 L509.97,808.67 L509.85,809.30 L509.74,809.92 L509.62,810.52 L509.50,811.09 L509.39,811.62 L509.28,812.15 L509.18,812.69 L509.07,813.22 L508.96,813.75 L508.84,814.28 L508.70,814.81 L508.55,815.35 L508.39,815.88 L508.20,816.41 L507.99,816.94 L507.75,817.47 L507.49,817.99 L507.22,818.50 L506.94,819.03 L506.65,819.55 L506.35,820.09 L506.06,820.65 L505.78,821.22 L505.50,821.81 L505.29,822.28 L505.07,822.76 L504.85,823.26 L504.63,823.76 L504.41,824.28 L504.19,824.80 L503.97,825.32 L503.76,825.85 L503.55,826.38 L503.35,826.91 L503.15,827.44 L502.97,827.96 L502.80,828.48 L502.64,829.00 L502.48,829.52 L502.33,830.05 L502.18,830.57 L502.04,831.09 L501.91,831.62 L501.78,832.14 L501.66,832.67 L501.55,833.19 L501.45,833.72 L501.36,834.24 L501.27,834.76 L501.20,835.29 L501.13,835.81 L501.08,836.34 L501.03,836.86 L500.99,837.39 L500.96,837.91 L500.93,838.44 L500.92,838.97 L500.91,839.49 L500.91,840.01 L500.92,840.54 L500.94,841.06 L500.97,841.58 L501.00,842.09 L501.04,842.61 L501.09,843.12 L501.14,843.63 L501.20,844.14 L501.26,844.65 L501.34,845.15 L501.43,845.66 L501.52,846.16 L501.63,846.67 L501.75,847.18 L501.89,847.68 L502.04,848.19 L502.20,848.71 L502.38,849.22 L502.56,849.74 L502.76,850.25 L502.97,850.77 L503.19,851.29 L503.42,851.81 L503.67,852.33 L503.93,852.85 L504.21,853.37 L504.50,853.89 L504.82,854.41 L505.15,854.93 L505.50,855.45 L505.87,855.97 L506.27,856.49 L506.68,857.02 L507.11,857.55 L507.56,858.08 L508.02,858.61 L508.50,859.13 L508.99,859.65 L509.49,860.17 L510.01,860.67 L510.53,861.17 L511.06,861.65 L511.60,862.12 L512.30,862.72 L513.01,863.29 L513.73,863.84 L514.47,864.38 L515.23,864.91 L516.01,865.43 L516.84,865.94 L517.71,866.46 L518.63,866.99 L519.60,867.52 L520.64,868.05 L521.76,868.59 L522.93,869.12 L524.15,869.65 L525.40,870.18 L526.67,870.71 L527.95,871.24 L529.22,871.78 L530.48,872.31 L531.70,872.85 L532.92,873.38 L534.18,873.92 L535.45,874.46 L536.73,875.00 L537.99,875.54 L539.24,876.08 L540.44,876.62 L541.60,877.16 L542.69,877.70 L543.70,878.24 L544.66,878.79 L545.58,879.35 L546.47,879.93 L547.31,880.50 L548.11,881.08 L548.84,881.63 L549.52,882.17 L550.12,882.68 L550.65,883.14 L551.10,883.57 L551.77,884.22 L552.16,884.68 L552.28,885.08 L552.16,885.54 L551.80,886.20 L551.53,886.63 L551.17,887.10 L550.75,887.62 L550.27,888.16 L549.73,888.73 L549.14,889.31 L548.51,889.89 L547.83,890.47 L547.13,891.04 L546.40,891.59 L545.62,892.13 L544.76,892.66 L543.85,893.19 L542.89,893.73 L541.91,894.26 L540.90,894.79 L539.89,895.32 L538.90,895.85 L537.93,896.39 L537.00,896.92 L536.09,897.45 L535.17,897.97 L534.25,898.49 L533.34,899.01 L532.44,899.53 L531.55,900.06 L530.69,900.60 L529.86,901.15 L529.06,901.72 L528.30,902.31 L527.74,902.78 L527.21,903.27 L526.69,903.76 L526.19,904.27 L525.70,904.78 L525.24,905.30 L524.78,905.83 L524.34,906.35 L523.91,906.88 L523.49,907.41 L523.09,907.94 L522.69,908.47 L522.30,908.99 L521.93,909.51 L521.57,910.03 L521.24,910.55 L520.92,911.08 L520.62,911.60 L520.32,912.13 L520.03,912.66 L519.75,913.18 L519.47,913.71 L519.18,914.23 L518.90,914.75 L518.60,915.28 L518.30,915.80 L517.99,916.31 L517.66,916.83 L517.32,917.34 L516.98,917.86 L516.64,918.37 L516.30,918.88 L515.97,919.39 L515.65,919.91 L515.34,920.42 L515.05,920.93 L514.77,921.44 L514.52,921.96 L514.30,922.47 L514.10,922.99 L513.93,923.49 L513.77,924.00 L513.63,924.50 L513.51,925.00 L513.40,925.51 L513.30,926.02 L513.22,926.53 L513.14,927.05 L513.07,927.57 L513.01,928.11 L512.95,928.65 L512.90,929.21 L512.86,929.73 L512.83,930.28 L512.81,930.85 L512.80,931.46 L512.80,932.07 L512.80,932.69 L512.81,933.31 L512.82,933.92 L512.83,934.50 L512.85,935.07 L512.86,935.59 L512.88,936.07 L512.89,936.50 L512.90,936.87 L512.90,937.17 L488.30,937.17 L488.30,936.87 L488.31,936.50 L488.32,936.07 L488.34,935.59 L488.35,935.07 L488.37,934.50 L488.38,933.92 L488.39,933.31 L488.40,932.69 L488.40,932.07 L488.40,931.46 L488.39,930.85 L488.37,930.28 L488.34,929.73 L488.30,929.21 L488.25,928.65 L488.19,928.11 L488.13,927.57 L488.06,927.05 L487.98,926.53 L487.90,926.02 L487.80,925.51 L487.69,925.00 L487.57,924.50 L487.43,924.00 L487.27,923.49 L487.10,922.99 L486.90,922.47 L486.68,921.96 L486.43,921.44 L486.15,920.93 L485.86,920.42 L485.55,919.91 L485.23,919.39 L484.90,918.88 L484.56,918.37 L484.22,917.86 L483.88,917.34 L483.54,916.83 L483.21,916.31 L482.90,915.80 L482.60,915.28 L482.30,914.75 L482.02,914.23 L481.73,913.71 L481.45,913.18 L481.17,912.66 L480.88,912.13 L480.58,911.60 L480.28,911.08 L479.96,910.55 L479.63,910.03 L479.27,909.51 L478.90,908.99 L478.51,908.47 L478.11,907.94 L477.71,907.41 L477.29,906.88 L476.86,906.35 L476.42,905.83 L475.96,905.30 L475.50,904.78 L475.01,904.27 L474.51,903.76 L473.99,903.27 L473.46,902.78 L472.90,902.31 L472.14,901.72 L471.34,901.15 L470.51,900.60 L469.65,900.06 L468.76,899.53 L467.86,899.01 L466.95,898.49 L466.03,897.97 L465.11,897.45 L464.20,896.92 L463.27,896.39 L462.30,895.85 L461.31,895.32 L460.30,894.79 L459.29,894.26 L458.31,893.73 L457.35,893.19 L456.44,892.66 L455.58,892.13 L454.80,891.59 L454.07,891.04 L453.37,890.47 L452.69,889.89 L452.06,889.31 L451.47,888.73 L450.93,888.16 L450.45,887.62 L450.03,887.10 L449.67,886.63 L449.40,886.20 L449.04,885.54 L448.92,885.08 L449.04,884.68 L449.43,884.22 L450.10,883.57 L450.55,883.14 L451.08,882.68 L451.68,882.17 L452.36,881.63 L453.09,881.08 L453.89,880.50 L454.73,879.93 L455.62,879.35 L456.54,878.79 L457.50,878.24 L458.51,877.70 L459.60,877.16 L460.76,876.62 L461.96,876.08 L463.21,875.54 L464.47,875.00 L465.75,874.46 L467.02,873.92 L468.28,873.38 L469.50,872.85 L470.72,872.31 L471.98,871.78 L473.25,871.24 L474.53,870.71 L475.80,870.18 L477.05,869.65 L478.27,869.12 L479.44,868.59 L480.56,868.05 L481.60,867.52 L482.57,866.99 L483.49,866.46 L484.36,865.94 L485.19,865.43 L485.98,864.91 L486.73,864.38 L487.47,863.84 L488.19,863.29 L488.90,862.72 L489.60,862.12 L490.14,861.65 L490.67,861.17 L491.19,860.67 L491.71,860.17 L492.21,859.65 L492.70,859.13 L493.18,858.61 L493.64,858.08 L494.09,857.55 L494.52,857.02 L494.93,856.49 L495.33,855.97 L495.70,855.45 L496.05,854.93 L496.38,854.41 L496.70,853.89 L496.99,853.37 L497.27,852.85 L497.53,852.33 L497.78,851.81 L498.01,851.29 L498.23,850.77 L498.44,850.25 L498.64,849.74 L498.82,849.22 L499.00,848.71 L499.16,848.19 L499.31,847.68 L499.45,847.18 L499.57,846.67 L499.68,846.16 L499.77,845.66 L499.86,845.15 L499.94,844.65 L500.00,844.14 L500.06,843.63 L500.11,843.12 L500.16,842.61 L500.20,842.09 L500.23,841.58 L500.26,841.06 L500.28,840.54 L500.29,840.01 L500.29,839.49 L500.28,838.97 L500.27,838.44 L500.24,837.91 L500.21,837.39 L500.17,836.86 L500.12,836.34 L500.07,835.81 L500.00,835.29 L499.93,834.76 L499.84,834.24 L499.75,833.72 L499.65,833.19 L499.54,832.67 L499.42,832.14 L499.29,831.62 L499.16,831.09 L499.02,830.57 L498.87,830.05 L498.72,829.52 L498.56,829.00 L498.40,828.48 L498.23,827.96 L498.05,827.44 L497.85,826.91 L497.65,826.38 L497.44,825.85 L497.23,825.32 L497.01,824.80 L496.79,824.28 L496.57,823.76 L496.35,823.26 L496.13,822.76 L495.91,822.28 L495.70,821.81 L495.42,821.22 L495.14,820.65 L494.85,820.09 L494.55,819.55 L494.26,819.03 L493.98,818.50 L493.71,817.99 L493.45,817.47 L493.21,816.94 L493.00,816.41 L492.81,815.88 L492.65,815.35 L492.50,814.81 L492.36,814.28 L492.24,813.75 L492.13,813.22 L492.02,812.69 L491.92,812.15 L491.81,811.62 L491.70,811.09 L491.58,810.52 L491.46,809.92 L491.35,809.30 L491.23,808.67 L491.12,808.06 L491.01,807.46 L490.92,806.92 L490.83,806.43 L490.76,806.01 L490.70,805.69 Z" fill="#A8E55A" fill-opacity="0.5"/>
<circle cx="629.30" cy="880.80" r="3.5" fill="#ECDB45"/>
<circle cx="626.90" cy="884.00" r="3.5" fill="#ECDB45"/>
<circle cx="614.50" cy="884.60" r="3.5" fill="#ECDB45"/>
<circle cx="591.40" cy="897.30" r="3.5" fill="#ECDB45"/>
<circle cx="593.70" cy="903.00" r="3.5" fill="#ECDB45"/>
<circle cx="599.70" cy="905.80" r="3.5" fill="#ECDB45"/>
<circle cx="624.00" cy="896.40" r="3.5" fill="#ECDB45"/>
<circle cx="636.40" cy="907.70" r="3.5" fill="#ECDB45"/>
<circle cx="632.00" cy="917.20" r="3.5" fill="#ECDB45"/>
<circle cx="595.50" cy="924.80" r="3.5" fill="#ECDB45"/>
<circle cx="598.40" cy="932.40" r="3.5" fill="#ECDB45"/>
<circle cx="605.00" cy="928.60" r="3.5" fill="#ECDB45"/>
<circle cx="614.50" cy="923.90" r="3.5" fill="#ECDB45"/>
<circle cx="633.50" cy="934.30" r="3.5" fill="#ECDB45"/>
<circle cx="595.20" cy="943.20" r="3.5" fill="#ECDB45"/>
<circle cx="636.40" cy="941.50" r="3.5" fill="#ECDB45"/>
<circle cx="594.20" cy="1014.10" r="3.5" fill="#ECDB45"/>
<circle cx="606.40" cy="1018.50" r="3.5" fill="#ECDB45"/>
<circle cx="631.80" cy="1062.30" r="3.5" fill="#ECDB45"/>
<circle cx="607.85" cy="921.38" r="3.5" fill="#ECDB45"/>
<circle cx="612.96" cy="906.62" r="3.5" fill="#ECDB45"/>
<circle cx="610.23" cy="897.82" r="3.5" fill="#ECDB45"/>
<line x1="613.80" x2="613.80" y1="881.26" y2="898.78" stroke="#000" stroke-width="1.6"/>
<line x1="613.80" x2="613.80" y1="934.29" y2="942.89" stroke="#000" stroke-width="1.6"/>
<rect x="571.30" y="898.78" width="85.00" height="35.50" fill="#ECDB45" fill-opacity="0.75" stroke="#000" stroke-width="1.6"/>
<line x1="571.30" x2="656.30" y1="919.52" y2="919.52" stroke="#000" stroke-width="3"/>
<path d="M630.90,880.68 L631.24,880.97 L631.66,881.31 L632.15,881.71 L632.71,882.16 L633.31,882.64 L633.95,883.17 L634.62,883.72 L635.30,884.29 L635.98,884.88 L636.65,885.48 L637.30,886.08 L637.92,886.69 L638.49,887.28 L639.00,887.87 L639.39,888.35 L639.77,888.84 L640.14,889.34 L640.51,889.85 L640.86,890.36 L641.20,890.89 L641.54,891.42 L641.86,891.95 L642.17,892.49 L642.48,893.03 L642.77,893.57 L643.05,894.11 L643.33,894.65 L643.59,895.19 L643.84,895.73 L644.07,896.26 L644.30,896.79 L644.51,897.32 L644.72,897.85 L644.91,898.38 L645.09,898.90 L645.26,899.43 L645.42,899.96 L645.57,900.49 L645.71,901.02 L645.84,901.55 L645.96,902.08 L646.06,902.61 L646.16,903.14 L646.25,903.67 L646.33,904.20 L646.39,904.73 L646.45,905.25 L646.50,905.78 L646.54,906.31 L646.56,906.83 L646.57,907.36 L646.57,907.88 L646.56,908.41 L646.54,908.93 L646.50,909.46 L646.46,909.98 L646.41,910.50 L646.35,911.03 L646.29,911.55 L646.22,912.08 L646.14,912.60 L646.06,913.13 L645.98,913.65 L645.89,914.18 L645.80,914.70 L645.71,915.23 L645.61,915.76 L645.50,916.29 L645.39,916.82 L645.28,917.34 L645.16,917.87 L645.03,918.40 L644.90,918.93 L644.76,919.46 L644.62,919.99 L644.46,920.52 L644.30,921.05 L644.14,921.58 L643.97,922.11 L643.78,922.64 L643.60,923.17 L643.40,923.69 L643.20,924.22 L642.99,924.74 L642.77,925.27 L642.54,925.79 L642.31,926.32 L642.07,926.84 L641.83,927.37 L641.57,927.89 L641.31,928.42 L641.05,928.94 L640.77,929.46 L640.49,929.99 L640.21,930.51 L639.92,931.04 L639.62,931.56 L639.31,932.09 L639.00,932.62 L638.68,933.14 L638.36,933.67 L638.03,934.20 L637.69,934.73 L637.34,935.26 L636.99,935.79 L636.63,936.32 L636.27,936.85 L635.89,937.37 L635.52,937.90 L635.13,938.43 L634.74,938.96 L634.35,939.49 L633.94,940.02 L633.54,940.55 L633.12,941.08 L632.70,941.60 L632.27,942.13 L631.82,942.66 L631.35,943.18 L630.88,943.71 L630.39,944.24 L629.90,944.76 L629.40,945.29 L628.90,945.81 L628.39,946.34 L627.89,946.86 L627.39,947.39 L626.90,947.91 L626.41,948.43 L625.94,948.96 L625.48,949.48 L625.03,950.00 L624.60,950.53 L624.18,951.05 L623.76,951.58 L623.35,952.12 L622.94,952.65 L622.53,953.19 L622.13,953.72 L621.74,954.26 L621.35,954.80 L620.98,955.33 L620.61,955.86 L620.25,956.38 L619.91,956.90 L619.58,957.41 L619.26,957.92 L618.96,958.42 L618.67,958.91 L618.40,959.39 L618.10,959.96 L617.82,960.51 L617.56,961.05 L617.33,961.58 L617.12,962.10 L616.92,962.62 L616.74,963.13 L616.57,963.63 L616.41,964.13 L616.26,964.63 L616.12,965.13 L615.98,965.63 L615.84,966.13 L615.70,966.64 L615.57,967.15 L615.44,967.64 L615.33,968.13 L615.22,968.62 L615.12,969.10 L615.03,969.58 L614.94,970.06 L614.87,970.55 L614.79,971.05 L614.73,971.55 L614.66,972.07 L614.61,972.60 L614.55,973.14 L614.50,973.70 L614.46,974.19 L614.43,974.68 L614.40,975.20 L614.37,975.72 L614.35,976.26 L614.33,976.81 L614.31,977.36 L614.30,977.91 L614.29,978.47 L614.28,979.02 L614.28,979.57 L614.28,980.12 L614.28,980.66 L614.28,981.19 L614.29,981.71 L614.29,982.21 L614.30,982.69 L614.31,983.27 L614.33,983.83 L614.35,984.39 L614.37,984.93 L614.39,985.47 L614.42,986.00 L614.46,986.52 L614.49,987.03 L614.53,987.53 L614.58,988.02 L614.63,988.50 L614.68,988.97 L614.74,989.43 L614.80,989.88 L614.89,990.47 L614.99,991.01 L615.10,991.50 L615.21,991.97 L615.34,992.43 L615.47,992.91 L615.61,993.40 L615.76,993.94 L615.93,994.54 L616.10,995.21 L616.21,995.64 L616.33,996.10 L616.45,996.58 L616.58,997.08 L616.72,997.59 L616.86,998.12 L617.00,998.65 L617.15,999.20 L617.29,999.76 L617.44,1000.32 L617.58,1000.88 L617.73,1001.45 L617.87,1002.01 L618.01,1002.57 L618.15,1003.12 L618.28,1003.67 L618.40,1004.20 L618.52,1004.73 L618.64,1005.27 L618.77,1005.82 L618.89,1006.38 L619.01,1006.94 L619.13,1007.50 L619.25,1008.05 L619.37,1008.61 L619.48,1009.16 L619.59,1009.70 L619.70,1010.24 L619.80,1010.76 L619.89,1011.27 L619.98,1011.76 L620.06,1012.24 L620.13,1012.69 L620.20,1013.12 L620.30,1013.80 L620.38,1014.40 L620.45,1014.94 L620.50,1015.45 L620.54,1015.93 L620.56,1016.40 L620.57,1016.88 L620.56,1017.38 L620.54,1017.92 L620.50,1018.52 L620.46,1018.97 L620.42,1019.43 L620.36,1019.91 L620.30,1020.39 L620.22,1020.88 L620.14,1021.38 L620.06,1021.89 L619.96,1022.40 L619.86,1022.93 L619.76,1023.47 L619.65,1024.01 L619.54,1024.57 L619.42,1025.13 L619.30,1025.71 L619.20,1026.19 L619.08,1026.68 L618.96,1027.18 L618.83,1027.70 L618.70,1028.22 L618.57,1028.75 L618.43,1029.28 L618.28,1029.82 L618.14,1030.36 L618.00,1030.90 L617.86,1031.45 L617.72,1032.00 L617.58,1032.54 L617.45,1033.08 L617.33,1033.63 L617.21,1034.16 L617.10,1034.69 L616.99,1035.22 L616.89,1035.75 L616.78,1036.28 L616.68,1036.81 L616.57,1037.34 L616.47,1037.87 L616.38,1038.39 L616.28,1038.92 L616.19,1039.45 L616.11,1039.98 L616.03,1040.51 L615.96,1041.04 L615.89,1041.57 L615.83,1042.10 L615.78,1042.62 L615.73,1043.15 L615.70,1043.68 L615.68,1044.21 L615.66,1044.74 L615.66,1045.27 L615.66,1045.80 L615.67,1046.33 L615.68,1046.86 L615.71,1047.40 L615.73,1047.93 L615.77,1048.46 L615.80,1048.99 L615.84,1049.52 L615.88,1050.05 L615.93,1050.57 L615.97,1051.10 L616.01,1051.62 L616.06,1052.15 L616.10,1052.67 L616.14,1053.20 L616.20,1053.76 L616.25,1054.34 L616.32,1054.93 L616.38,1055.52 L616.45,1056.12 L616.52,1056.72 L616.59,1057.31 L616.66,1057.88 L616.73,1058.44 L616.80,1058.98 L616.86,1059.48 L616.92,1059.95 L616.98,1060.39 L617.02,1060.78 L617.07,1061.12 L617.10,1061.40 L610.50,1061.40 L610.53,1061.12 L610.58,1060.78 L610.62,1060.39 L610.68,1059.95 L610.74,1059.48 L610.80,1058.98 L610.87,1058.44 L610.94,1057.88 L611.01,1057.31 L611.08,1056.72 L611.15,1056.12 L611.22,1055.52 L611.28,1054.93 L611.35,1054.34 L611.40,1053.76 L611.46,1053.20 L611.50,1052.67 L611.54,1052.15 L611.59,1051.62 L611.63,1051.10 L611.67,1050.57 L611.72,1050.05 L611.76,1049.52 L611.80,1048.99 L611.83,1048.46 L611.87,1047.93 L611.89,1047.40 L611.92,1046.86 L611.93,1046.33 L611.94,1045.80 L611.94,1045.27 L611.94,1044.74 L611.92,1044.21 L611.90,1043.68 L611.87,1043.15 L611.82,1042.62 L611.77,1042.10 L611.71,1041.57 L611.64,1041.04 L611.57,1040.51 L611.49,1039.98 L611.41,1039.45 L611.32,1038.92 L611.22,1038.39 L611.13,1037.87 L611.03,1037.34 L610.92,1036.81 L610.82,1036.28 L610.71,1035.75 L610.61,1035.22 L610.50,1034.69 L610.39,1034.16 L610.27,1033.63 L610.15,1033.08 L610.02,1032.54 L609.88,1032.00 L609.74,1031.45 L609.60,1030.90 L609.46,1030.36 L609.32,1029.82 L609.17,1029.28 L609.03,1028.75 L608.90,1028.22 L608.77,1027.70 L608.64,1027.18 L608.52,1026.68 L608.40,1026.19 L608.30,1025.71 L608.18,1025.13 L608.06,1024.57 L607.95,1024.01 L607.84,1023.47 L607.74,1022.93 L607.64,1022.40 L607.54,1021.89 L607.46,1021.38 L607.38,1020.88 L607.30,1020.39 L607.24,1019.91 L607.18,1019.43 L607.14,1018.97 L607.10,1018.52 L607.06,1017.92 L607.04,1017.38 L607.03,1016.88 L607.04,1016.40 L607.06,1015.93 L607.10,1015.45 L607.15,1014.94 L607.22,1014.40 L607.30,1013.80 L607.40,1013.12 L607.47,1012.69 L607.54,1012.24 L607.62,1011.76 L607.71,1011.27 L607.80,1010.76 L607.90,1010.24 L608.01,1009.70 L608.12,1009.16 L608.23,1008.61 L608.35,1008.05 L608.47,1007.50 L608.59,1006.94 L608.71,1006.38 L608.83,1005.82 L608.96,1005.27 L609.08,1004.73 L609.20,1004.20 L609.32,1003.67 L609.45,1003.12 L609.59,1002.57 L609.73,1002.01 L609.87,1001.45 L610.02,1000.88 L610.16,1000.32 L610.31,999.76 L610.45,999.20 L610.60,998.65 L610.74,998.12 L610.88,997.59 L611.02,997.08 L611.15,996.58 L611.27,996.10 L611.39,995.64 L611.50,995.21 L611.67,994.54 L611.84,993.94 L611.99,993.40 L612.13,992.91 L612.26,992.43 L612.39,991.97 L612.50,991.50 L612.61,991.01 L612.71,990.47 L612.80,989.88 L612.86,989.43 L612.92,988.97 L612.97,988.50 L613.02,988.02 L613.07,987.53 L613.11,987.03 L613.14,986.52 L613.18,986.00 L613.21,985.47 L613.23,984.93 L613.25,984.39 L613.27,983.83 L613.29,983.27 L613.30,982.69 L613.31,982.21 L613.31,981.71 L613.32,981.19 L613.32,980.66 L613.32,980.12 L613.32,979.57 L613.32,979.02 L613.31,978.47 L613.30,977.91 L613.29,977.36 L613.27,976.81 L613.25,976.26 L613.23,975.72 L613.20,975.20 L613.17,974.68 L613.14,974.19 L613.10,973.70 L613.05,973.14 L612.99,972.60 L612.94,972.07 L612.87,971.55 L612.81,971.05 L612.73,970.55 L612.66,970.06 L612.57,969.58 L612.48,969.10 L612.38,968.62 L612.27,968.13 L612.16,967.64 L612.03,967.15 L611.90,966.64 L611.76,966.13 L611.62,965.63 L611.48,965.13 L611.34,964.63 L611.19,964.13 L611.03,963.63 L610.86,963.13 L610.68,962.62 L610.48,962.10 L610.27,961.58 L610.04,961.05 L609.78,960.51 L609.50,959.96 L609.20,959.39 L608.93,958.91 L608.64,958.42 L608.34,957.92 L608.02,957.41 L607.69,956.90 L607.35,956.38 L606.99,955.86 L606.62,955.33 L606.25,954.80 L605.86,954.26 L605.47,953.72 L605.07,953.19 L604.66,952.65 L604.25,952.12 L603.84,951.58 L603.42,951.05 L603.00,950.53 L602.57,950.00 L602.12,949.48 L601.66,948.96 L601.19,948.43 L600.70,947.91 L600.21,947.39 L599.71,946.86 L599.21,946.34 L598.70,945.81 L598.20,945.29 L597.70,944.76 L597.21,944.24 L596.72,943.71 L596.25,943.18 L595.78,942.66 L595.33,942.13 L594.90,941.60 L594.48,941.08 L594.06,940.55 L593.66,940.02 L593.25,939.49 L592.86,938.96 L592.47,938.43 L592.08,937.90 L591.71,937.37 L591.33,936.85 L590.97,936.32 L590.61,935.79 L590.26,935.26 L589.91,934.73 L589.57,934.20 L589.24,933.67 L588.92,933.14 L588.60,932.62 L588.29,932.09 L587.98,931.56 L587.68,931.04 L587.39,930.51 L587.11,929.99 L586.83,929.46 L586.55,928.94 L586.29,928.42 L586.03,927.89 L585.77,927.37 L585.53,926.84 L585.29,926.32 L585.06,925.79 L584.83,925.27 L584.61,924.74 L584.40,924.22 L584.20,923.69 L584.00,923.17 L583.82,922.64 L583.63,922.11 L583.46,921.58 L583.30,921.05 L583.14,920.52 L582.98,919.99 L582.84,919.46 L582.70,918.93 L582.57,918.40 L582.44,917.87 L582.32,917.34 L582.21,916.82 L582.10,916.29 L581.99,915.76 L581.89,915.23 L581.80,914.70 L581.71,914.18 L581.62,913.65 L581.54,913.13 L581.46,912.60 L581.38,912.08 L581.31,911.55 L581.25,911.03 L581.19,910.50 L581.14,909.98 L581.10,909.46 L581.06,908.93 L581.04,908.41 L581.03,907.88 L581.03,907.36 L581.04,906.83 L581.06,906.31 L581.10,905.78 L581.15,905.25 L581.21,904.73 L581.27,904.20 L581.35,903.67 L581.44,903.14 L581.54,902.61 L581.64,902.08 L581.76,901.55 L581.89,901.02 L582.03,900.49 L582.18,899.96 L582.34,899.43 L582.51,898.90 L582.69,898.38 L582.88,897.85 L583.09,897.32 L583.30,896.79 L583.53,896.26 L583.76,895.73 L584.01,895.19 L584.27,894.65 L584.55,894.11 L584.83,893.57 L585.12,893.03 L585.43,892.49 L585.74,891.95 L586.06,891.42 L586.40,890.89 L586.74,890.36 L587.09,889.85 L587.46,889.34 L587.83,888.84 L588.21,888.35 L588.60,887.87 L589.11,887.28 L589.68,886.69 L590.30,886.08 L590.95,885.48 L591.62,884.88 L592.30,884.29 L592.98,883.72 L593.65,883.17 L594.29,882.64 L594.89,882.16 L595.45,881.71 L595.94,881.31 L596.36,880.97 L596.70,880.68 Z" fill="#ECDB45" fill-opacity="0.5"/>
<rect x="433.7" y="780.8" width="244.0" height="293.59999999999997" fill="none" stroke="#2B2B2B" stroke-width="2.8"/>
<line x1="428.40000000000003" x2="432.3" y1="805.50" y2="805.50" stroke="#333" stroke-width="1.5"/>
<text x="425.50" y="809.40" font-family="Liberation Sans" font-size="11" fill="#1A1A1A" text-anchor="end" >2</text>
<line x1="428.40000000000003" x2="432.3" y1="869.70" y2="869.70" stroke="#333" stroke-width="1.5"/>
<text x="425.50" y="873.60" font-family="Liberation Sans" font-size="11" fill="#1A1A1A" text-anchor="end" >1</text>
<line x1="428.40000000000003" x2="432.3" y1="933.90" y2="933.90" stroke="#333" stroke-width="1.5"/>
<text x="425.50" y="937.80" font-family="Liberation Sans" font-size="11" fill="#1A1A1A" text-anchor="end" >0</text>
<line x1="428.40000000000003" x2="432.3" y1="998.10" y2="998.10" stroke="#333" stroke-width="1.5"/>
<text x="425.50" y="1002.00" font-family="Liberation Sans" font-size="11" fill="#1A1A1A" text-anchor="end" >-1</text>
<line x1="428.40000000000003" x2="432.3" y1="1062.30" y2="1062.30" stroke="#333" stroke-width="1.5"/>
<text x="425.50" y="1066.20" font-family="Liberation Sans" font-size="11" fill="#1A1A1A" text-anchor="end" >-2</text>
<text x="2.20" y="16.00" font-family="Liberation Serif" font-size="25.5" fill="#000" text-anchor="start" >a</text>
<text x="1.30" y="392.50" font-family="Liberation Serif" font-size="25" fill="#000" text-anchor="start" >b</text>
<text x="2.50" y="767.50" font-family="Liberation Serif" font-size="25" fill="#000" text-anchor="start" >c</text>
<text x="396.00" y="18.20" font-family="Liberation Serif" font-size="24" fill="#000" text-anchor="start" >d</text>
<text x="396.50" y="392.80" font-family="Liberation Serif" font-size="24" fill="#000" text-anchor="start" >e</text>
<text x="397.80" y="770.20" font-family="Liberation Serif" font-size="24" fill="#000" text-anchor="start" >f</text>
<text x="148.90" y="15.80" font-family="Liberation Sans" font-size="15.75" fill="#9B1B1B" text-anchor="middle" >Training cohort</text>
<text x="148.90" y="393.00" font-family="Liberation Sans" font-size="15.75" fill="#9B1B1B" text-anchor="middle" >Internal verification</text>
<text x="148.90" y="768.90" font-family="Liberation Sans" font-size="15.75" fill="#9B1B1B" text-anchor="middle" >External verification</text>
<text x="556.00" y="16.40" font-family="Liberation Sans" font-size="15.75" fill="#9B1B1B" text-anchor="middle" >Training cohort</text>
<text x="555.50" y="393.10" font-family="Liberation Sans" font-size="15.75" fill="#9B1B1B" text-anchor="middle" >Internal verification</text>
<text x="556.80" y="769.00" font-family="Liberation Sans" font-size="15.75" fill="#9B1B1B" text-anchor="middle" >External verification</text>
<text transform="translate(20.1,175.7) rotate(-90)" font-family="Liberation Sans" font-size="15.75" fill="#9B1B1B" text-anchor="middle">Radscore</text>
<text transform="translate(20.1,552.9) rotate(-90)" font-family="Liberation Sans" font-size="15.75" fill="#9B1B1B" text-anchor="middle">Radscore</text>
<text transform="translate(20.1,928.4) rotate(-90)" font-family="Liberation Sans" font-size="15.75" fill="#9B1B1B" text-anchor="middle">Radscore</text>
<text transform="translate(409.3,171.2) rotate(-90)" font-family="Liberation Sans" font-size="15.75" fill="#9B1B1B" text-anchor="middle">Radscore</text>
<text transform="translate(409.2,548.3) rotate(-90)" font-family="Liberation Sans" font-size="15.75" fill="#9B1B1B" text-anchor="middle">Radscore</text>
<text transform="translate(409.9,925.3) rotate(-90)" font-family="Liberation Sans" font-size="15.75" fill="#9B1B1B" text-anchor="middle">Radscore</text>
<text x="148.70" y="356.90" font-family="Liberation Sans" font-size="15.75" fill="#9B1B1B" text-anchor="middle" >Patients</text>
<text x="148.70" y="734.10" font-family="Liberation Sans" font-size="15.75" fill="#9B1B1B" text-anchor="middle" >Patients</text>
<text x="148.70" y="1109.40" font-family="Liberation Sans" font-size="15.75" fill="#9B1B1B" text-anchor="middle" >Patients</text>
<text x="277.00" y="164.00" font-family="Liberation Sans" font-size="15.75" fill="#9B1B1B" text-anchor="start" >Response</text>
<rect x="278" y="173.0" width="17" height="12.8" fill="#A8E55A"/>
<rect x="278" y="187.8" width="17" height="12.8" fill="#ECDB45"/>
<text x="302.40" y="185.10" font-family="Liberation Sans" font-size="15.75" fill="#9B1B1B" text-anchor="start" >CR+PR</text>
<text x="302.40" y="199.70" font-family="Liberation Sans" font-size="15.75" fill="#9B1B1B" text-anchor="start" >PD+SD</text>
<text x="277.00" y="541.10" font-family="Liberation Sans" font-size="15.75" fill="#9B1B1B" text-anchor="start" >Response</text>
<rect x="278" y="550.3" width="17" height="12.8" fill="#A8E55A"/>
<rect x="278" y="565.1" width="17" height="12.8" fill="#ECDB45"/>
<text x="302.40" y="562.20" font-family="Liberation Sans" font-size="15.75" fill="#9B1B1B" text-anchor="start" >CR+PR</text>
<text x="302.40" y="576.80" font-family="Liberation Sans" font-size="15.75" fill="#9B1B1B" text-anchor="start" >PD+SD</text>
<text x="277.00" y="916.60" font-family="Liberation Sans" font-size="15.75" fill="#9B1B1B" text-anchor="start" >Response</text>
<rect x="278" y="925.8" width="17" height="12.8" fill="#A8E55A"/>
<rect x="278" y="940.4" width="17" height="12.8" fill="#ECDB45"/>
<text x="302.40" y="937.70" font-family="Liberation Sans" font-size="15.75" fill="#9B1B1B" text-anchor="start" >CR+PR</text>
<text x="302.40" y="952.30" font-family="Liberation Sans" font-size="15.75" fill="#9B1B1B" text-anchor="start" >PD+SD</text>
<text x="564.90" y="46.40" font-family="Liberation Sans" font-size="15.0" fill="#111" text-anchor="middle" >Wilcoxon, p &lt; 2.2e-16</text>
<text x="565.30" y="422.80" font-family="Liberation Sans" font-size="15.0" fill="#111" text-anchor="middle" >Wilcoxon, p = 8.3e-08</text>
<text x="564.90" y="799.20" font-family="Liberation Sans" font-size="15.2" fill="#111" text-anchor="middle" >Wilcoxon, p = 0.0012</text>
<text x="499.20" y="338.00" font-family="Liberation Sans" font-size="15.75" fill="#111" text-anchor="middle" >CR+PR</text>
<text x="611.60" y="338.00" font-family="Liberation Sans" font-size="15.75" fill="#111" text-anchor="middle" >PD+SD</text>
<text x="555.40" y="356.40" font-family="Liberation Sans" font-size="15.75" fill="#9B1B1B" text-anchor="middle" >Response</text>
<text x="499.20" y="715.40" font-family="Liberation Sans" font-size="15.75" fill="#111" text-anchor="middle" >CR+PR</text>
<text x="611.50" y="715.40" font-family="Liberation Sans" font-size="15.75" fill="#111" text-anchor="middle" >PD+SD</text>
<text x="555.20" y="733.80" font-family="Liberation Sans" font-size="15.75" fill="#9B1B1B" text-anchor="middle" >Response</text>
<text x="500.20" y="1093.90" font-family="Liberation Sans" font-size="15.9" fill="#111" text-anchor="middle" >CR+PR</text>
<text x="614.00" y="1093.90" font-family="Liberation Sans" font-size="15.9" fill="#111" text-anchor="middle" >PD+SD</text>
<text x="556.70" y="1112.30" font-family="Liberation Sans" font-size="15.9" fill="#9B1B1B" text-anchor="middle" >Response</text>
</svg>
</body></html>
